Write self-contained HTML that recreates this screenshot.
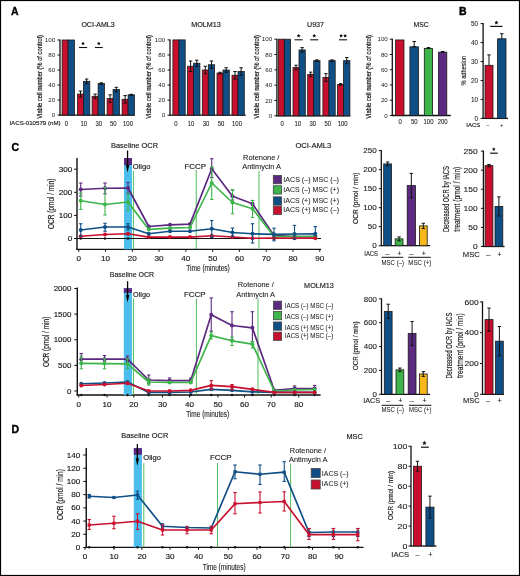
<!DOCTYPE html>
<html><head><meta charset="utf-8"><style>
html,body{margin:0;padding:0;background:#fff;}
svg{display:block;font-family:"Liberation Sans",sans-serif;transform:translateZ(0);will-change:transform;}
</style></head><body>
<svg width="520" height="576" viewBox="0 0 520 576">
<rect width="520" height="576" fill="#fff"/>
<rect x="0.5" y="0.5" width="519" height="575" fill="none" stroke="#000" stroke-width="1.2"/>
<text x="11.00" y="15.26" font-size="10.5" text-anchor="start" fill="#000" stroke="#000" stroke-width="0.3" font-weight="bold">A</text>
<text x="459.00" y="15.26" font-size="10.5" text-anchor="start" fill="#000" stroke="#000" stroke-width="0.4" font-weight="bold">B</text>
<text x="11.40" y="150.96" font-size="10.5" text-anchor="start" fill="#000" stroke="#000" stroke-width="0.4" font-weight="bold">C</text>
<text x="11.60" y="432.56" font-size="10.5" text-anchor="start" fill="#000" stroke="#000" stroke-width="0.4" font-weight="bold">D</text>
<line x1="60.00" y1="39.50" x2="60.00" y2="115.60" stroke="#111" stroke-width="1.3"/>
<line x1="59.50" y1="115.10" x2="134.50" y2="115.10" stroke="#111" stroke-width="1.3"/>
<line x1="57.50" y1="115.10" x2="60.00" y2="115.10" stroke="#111" stroke-width="1.0"/>
<text x="55.20" y="117.25" font-size="6.0" text-anchor="end" fill="#1a1a1a" stroke="#1a1a1a" stroke-width="0.0" textLength="3.45" lengthAdjust="spacingAndGlyphs">0</text>
<line x1="57.50" y1="100.08" x2="60.00" y2="100.08" stroke="#111" stroke-width="1.0"/>
<text x="55.20" y="102.23" font-size="6.0" text-anchor="end" fill="#1a1a1a" stroke="#1a1a1a" stroke-width="0.0" textLength="6.9" lengthAdjust="spacingAndGlyphs">20</text>
<line x1="57.50" y1="85.06" x2="60.00" y2="85.06" stroke="#111" stroke-width="1.0"/>
<text x="55.20" y="87.21" font-size="6.0" text-anchor="end" fill="#1a1a1a" stroke="#1a1a1a" stroke-width="0.0" textLength="6.9" lengthAdjust="spacingAndGlyphs">40</text>
<line x1="57.50" y1="70.04" x2="60.00" y2="70.04" stroke="#111" stroke-width="1.0"/>
<text x="55.20" y="72.19" font-size="6.0" text-anchor="end" fill="#1a1a1a" stroke="#1a1a1a" stroke-width="0.0" textLength="6.9" lengthAdjust="spacingAndGlyphs">60</text>
<line x1="57.50" y1="55.02" x2="60.00" y2="55.02" stroke="#111" stroke-width="1.0"/>
<text x="55.20" y="57.17" font-size="6.0" text-anchor="end" fill="#1a1a1a" stroke="#1a1a1a" stroke-width="0.0" textLength="6.9" lengthAdjust="spacingAndGlyphs">80</text>
<line x1="57.50" y1="40.00" x2="60.00" y2="40.00" stroke="#111" stroke-width="1.0"/>
<text x="55.20" y="42.15" font-size="6.0" text-anchor="end" fill="#1a1a1a" stroke="#1a1a1a" stroke-width="0.0" textLength="10.35" lengthAdjust="spacingAndGlyphs">100</text>
<rect x="62.10" y="40.00" width="6.00" height="75.10" fill="#c8102e" stroke="#1a1a1a" stroke-width="0.8"/>
<rect x="68.10" y="40.00" width="6.30" height="75.10" fill="#0f4f86" stroke="#1a1a1a" stroke-width="0.8"/>
<line x1="80.50" y1="91.07" x2="80.50" y2="97.08" stroke="#111" stroke-width="1.0"/>
<line x1="78.80" y1="91.07" x2="82.20" y2="91.07" stroke="#111" stroke-width="1.0"/>
<line x1="78.80" y1="97.08" x2="82.20" y2="97.08" stroke="#111" stroke-width="1.0"/>
<rect x="77.50" y="94.07" width="6.00" height="21.03" fill="#c8102e" stroke="#1a1a1a" stroke-width="0.8"/>
<line x1="80.50" y1="94.07" x2="80.50" y2="97.08" stroke="#111" stroke-width="1.0"/>
<line x1="78.80" y1="97.08" x2="82.20" y2="97.08" stroke="#111" stroke-width="1.0"/>
<line x1="86.65" y1="79.05" x2="86.65" y2="83.56" stroke="#111" stroke-width="1.0"/>
<line x1="84.95" y1="79.05" x2="88.35" y2="79.05" stroke="#111" stroke-width="1.0"/>
<line x1="84.95" y1="83.56" x2="88.35" y2="83.56" stroke="#111" stroke-width="1.0"/>
<rect x="83.50" y="81.31" width="6.30" height="33.79" fill="#0f4f86" stroke="#1a1a1a" stroke-width="0.8"/>
<line x1="86.65" y1="81.31" x2="86.65" y2="83.56" stroke="#111" stroke-width="1.0"/>
<line x1="84.95" y1="83.56" x2="88.35" y2="83.56" stroke="#111" stroke-width="1.0"/>
<line x1="95.10" y1="94.07" x2="95.10" y2="98.58" stroke="#111" stroke-width="1.0"/>
<line x1="93.40" y1="94.07" x2="96.80" y2="94.07" stroke="#111" stroke-width="1.0"/>
<line x1="93.40" y1="98.58" x2="96.80" y2="98.58" stroke="#111" stroke-width="1.0"/>
<rect x="92.10" y="96.32" width="6.00" height="18.78" fill="#c8102e" stroke="#1a1a1a" stroke-width="0.8"/>
<line x1="95.10" y1="96.32" x2="95.10" y2="98.58" stroke="#111" stroke-width="1.0"/>
<line x1="93.40" y1="98.58" x2="96.80" y2="98.58" stroke="#111" stroke-width="1.0"/>
<line x1="101.25" y1="82.81" x2="101.25" y2="84.31" stroke="#111" stroke-width="1.0"/>
<line x1="99.55" y1="82.81" x2="102.95" y2="82.81" stroke="#111" stroke-width="1.0"/>
<line x1="99.55" y1="84.31" x2="102.95" y2="84.31" stroke="#111" stroke-width="1.0"/>
<rect x="98.10" y="83.56" width="6.30" height="31.54" fill="#0f4f86" stroke="#1a1a1a" stroke-width="0.8"/>
<line x1="101.25" y1="83.56" x2="101.25" y2="84.31" stroke="#111" stroke-width="1.0"/>
<line x1="99.55" y1="84.31" x2="102.95" y2="84.31" stroke="#111" stroke-width="1.0"/>
<line x1="110.10" y1="94.82" x2="110.10" y2="102.33" stroke="#111" stroke-width="1.0"/>
<line x1="108.40" y1="94.82" x2="111.80" y2="94.82" stroke="#111" stroke-width="1.0"/>
<line x1="108.40" y1="102.33" x2="111.80" y2="102.33" stroke="#111" stroke-width="1.0"/>
<rect x="107.10" y="98.58" width="6.00" height="16.52" fill="#c8102e" stroke="#1a1a1a" stroke-width="0.8"/>
<line x1="110.10" y1="98.58" x2="110.10" y2="102.33" stroke="#111" stroke-width="1.0"/>
<line x1="108.40" y1="102.33" x2="111.80" y2="102.33" stroke="#111" stroke-width="1.0"/>
<line x1="116.25" y1="87.31" x2="116.25" y2="91.82" stroke="#111" stroke-width="1.0"/>
<line x1="114.55" y1="87.31" x2="117.95" y2="87.31" stroke="#111" stroke-width="1.0"/>
<line x1="114.55" y1="91.82" x2="117.95" y2="91.82" stroke="#111" stroke-width="1.0"/>
<rect x="113.10" y="89.57" width="6.30" height="25.53" fill="#0f4f86" stroke="#1a1a1a" stroke-width="0.8"/>
<line x1="116.25" y1="89.57" x2="116.25" y2="91.82" stroke="#111" stroke-width="1.0"/>
<line x1="114.55" y1="91.82" x2="117.95" y2="91.82" stroke="#111" stroke-width="1.0"/>
<line x1="125.10" y1="95.57" x2="125.10" y2="103.08" stroke="#111" stroke-width="1.0"/>
<line x1="123.40" y1="95.57" x2="126.80" y2="95.57" stroke="#111" stroke-width="1.0"/>
<line x1="123.40" y1="103.08" x2="126.80" y2="103.08" stroke="#111" stroke-width="1.0"/>
<rect x="122.10" y="99.33" width="6.00" height="15.77" fill="#c8102e" stroke="#1a1a1a" stroke-width="0.8"/>
<line x1="125.10" y1="99.33" x2="125.10" y2="103.08" stroke="#111" stroke-width="1.0"/>
<line x1="123.40" y1="103.08" x2="126.80" y2="103.08" stroke="#111" stroke-width="1.0"/>
<line x1="131.25" y1="94.30" x2="131.25" y2="95.35" stroke="#111" stroke-width="1.0"/>
<line x1="129.55" y1="94.30" x2="132.95" y2="94.30" stroke="#111" stroke-width="1.0"/>
<line x1="129.55" y1="95.35" x2="132.95" y2="95.35" stroke="#111" stroke-width="1.0"/>
<rect x="128.10" y="94.82" width="6.30" height="20.28" fill="#0f4f86" stroke="#1a1a1a" stroke-width="0.8"/>
<line x1="131.25" y1="94.82" x2="131.25" y2="95.35" stroke="#111" stroke-width="1.0"/>
<line x1="129.55" y1="95.35" x2="132.95" y2="95.35" stroke="#111" stroke-width="1.0"/>
<text x="81.40" y="27.41" font-size="7.3" text-anchor="start" fill="#1a1a1a" stroke="#1a1a1a" stroke-width="0.15" textLength="33.2" lengthAdjust="spacingAndGlyphs">OCI-AML3</text>
<text x="39.50" y="79.69" font-size="7.8" text-anchor="middle" fill="#1a1a1a" stroke="#1a1a1a" stroke-width="0.22" textLength="83.5" lengthAdjust="spacingAndGlyphs" transform="rotate(-90 39.50 76.90)">Viable cell number (% of control)</text>
<line x1="170.00" y1="39.40" x2="170.00" y2="115.70" stroke="#111" stroke-width="1.3"/>
<line x1="169.50" y1="115.20" x2="245.70" y2="115.20" stroke="#111" stroke-width="1.3"/>
<line x1="167.50" y1="115.20" x2="170.00" y2="115.20" stroke="#111" stroke-width="1.0"/>
<text x="165.20" y="117.35" font-size="6.0" text-anchor="end" fill="#1a1a1a" stroke="#1a1a1a" stroke-width="0.0" textLength="3.45" lengthAdjust="spacingAndGlyphs">0</text>
<line x1="167.50" y1="100.14" x2="170.00" y2="100.14" stroke="#111" stroke-width="1.0"/>
<text x="165.20" y="102.29" font-size="6.0" text-anchor="end" fill="#1a1a1a" stroke="#1a1a1a" stroke-width="0.0" textLength="6.9" lengthAdjust="spacingAndGlyphs">20</text>
<line x1="167.50" y1="85.08" x2="170.00" y2="85.08" stroke="#111" stroke-width="1.0"/>
<text x="165.20" y="87.23" font-size="6.0" text-anchor="end" fill="#1a1a1a" stroke="#1a1a1a" stroke-width="0.0" textLength="6.9" lengthAdjust="spacingAndGlyphs">40</text>
<line x1="167.50" y1="70.02" x2="170.00" y2="70.02" stroke="#111" stroke-width="1.0"/>
<text x="165.20" y="72.17" font-size="6.0" text-anchor="end" fill="#1a1a1a" stroke="#1a1a1a" stroke-width="0.0" textLength="6.9" lengthAdjust="spacingAndGlyphs">60</text>
<line x1="167.50" y1="54.96" x2="170.00" y2="54.96" stroke="#111" stroke-width="1.0"/>
<text x="165.20" y="57.11" font-size="6.0" text-anchor="end" fill="#1a1a1a" stroke="#1a1a1a" stroke-width="0.0" textLength="6.9" lengthAdjust="spacingAndGlyphs">80</text>
<line x1="167.50" y1="39.90" x2="170.00" y2="39.90" stroke="#111" stroke-width="1.0"/>
<text x="165.20" y="42.05" font-size="6.0" text-anchor="end" fill="#1a1a1a" stroke="#1a1a1a" stroke-width="0.0" textLength="10.35" lengthAdjust="spacingAndGlyphs">100</text>
<rect x="172.90" y="39.90" width="6.00" height="75.30" fill="#c8102e" stroke="#1a1a1a" stroke-width="0.8"/>
<rect x="178.90" y="39.90" width="6.30" height="75.30" fill="#0f4f86" stroke="#1a1a1a" stroke-width="0.8"/>
<line x1="190.60" y1="60.98" x2="190.60" y2="71.53" stroke="#111" stroke-width="1.0"/>
<line x1="188.90" y1="60.98" x2="192.30" y2="60.98" stroke="#111" stroke-width="1.0"/>
<line x1="188.90" y1="71.53" x2="192.30" y2="71.53" stroke="#111" stroke-width="1.0"/>
<rect x="187.60" y="66.25" width="6.00" height="48.95" fill="#c8102e" stroke="#1a1a1a" stroke-width="0.8"/>
<line x1="190.60" y1="66.25" x2="190.60" y2="71.53" stroke="#111" stroke-width="1.0"/>
<line x1="188.90" y1="71.53" x2="192.30" y2="71.53" stroke="#111" stroke-width="1.0"/>
<line x1="196.75" y1="60.23" x2="196.75" y2="66.25" stroke="#111" stroke-width="1.0"/>
<line x1="195.05" y1="60.23" x2="198.45" y2="60.23" stroke="#111" stroke-width="1.0"/>
<line x1="195.05" y1="66.25" x2="198.45" y2="66.25" stroke="#111" stroke-width="1.0"/>
<rect x="193.60" y="63.24" width="6.30" height="51.96" fill="#0f4f86" stroke="#1a1a1a" stroke-width="0.8"/>
<line x1="196.75" y1="63.24" x2="196.75" y2="66.25" stroke="#111" stroke-width="1.0"/>
<line x1="195.05" y1="66.25" x2="198.45" y2="66.25" stroke="#111" stroke-width="1.0"/>
<line x1="205.30" y1="66.25" x2="205.30" y2="73.78" stroke="#111" stroke-width="1.0"/>
<line x1="203.60" y1="66.25" x2="207.00" y2="66.25" stroke="#111" stroke-width="1.0"/>
<line x1="203.60" y1="73.78" x2="207.00" y2="73.78" stroke="#111" stroke-width="1.0"/>
<rect x="202.30" y="70.02" width="6.00" height="45.18" fill="#c8102e" stroke="#1a1a1a" stroke-width="0.8"/>
<line x1="205.30" y1="70.02" x2="205.30" y2="73.78" stroke="#111" stroke-width="1.0"/>
<line x1="203.60" y1="73.78" x2="207.00" y2="73.78" stroke="#111" stroke-width="1.0"/>
<line x1="211.45" y1="60.98" x2="211.45" y2="68.51" stroke="#111" stroke-width="1.0"/>
<line x1="209.75" y1="60.98" x2="213.15" y2="60.98" stroke="#111" stroke-width="1.0"/>
<line x1="209.75" y1="68.51" x2="213.15" y2="68.51" stroke="#111" stroke-width="1.0"/>
<rect x="208.30" y="64.75" width="6.30" height="50.45" fill="#0f4f86" stroke="#1a1a1a" stroke-width="0.8"/>
<line x1="211.45" y1="64.75" x2="211.45" y2="68.51" stroke="#111" stroke-width="1.0"/>
<line x1="209.75" y1="68.51" x2="213.15" y2="68.51" stroke="#111" stroke-width="1.0"/>
<line x1="220.00" y1="72.28" x2="220.00" y2="73.78" stroke="#111" stroke-width="1.0"/>
<line x1="218.30" y1="72.28" x2="221.70" y2="72.28" stroke="#111" stroke-width="1.0"/>
<line x1="218.30" y1="73.78" x2="221.70" y2="73.78" stroke="#111" stroke-width="1.0"/>
<rect x="217.00" y="73.03" width="6.00" height="42.17" fill="#c8102e" stroke="#1a1a1a" stroke-width="0.8"/>
<line x1="220.00" y1="73.03" x2="220.00" y2="73.78" stroke="#111" stroke-width="1.0"/>
<line x1="218.30" y1="73.78" x2="221.70" y2="73.78" stroke="#111" stroke-width="1.0"/>
<line x1="226.15" y1="67.76" x2="226.15" y2="72.28" stroke="#111" stroke-width="1.0"/>
<line x1="224.45" y1="67.76" x2="227.85" y2="67.76" stroke="#111" stroke-width="1.0"/>
<line x1="224.45" y1="72.28" x2="227.85" y2="72.28" stroke="#111" stroke-width="1.0"/>
<rect x="223.00" y="70.02" width="6.30" height="45.18" fill="#0f4f86" stroke="#1a1a1a" stroke-width="0.8"/>
<line x1="226.15" y1="70.02" x2="226.15" y2="72.28" stroke="#111" stroke-width="1.0"/>
<line x1="224.45" y1="72.28" x2="227.85" y2="72.28" stroke="#111" stroke-width="1.0"/>
<line x1="235.00" y1="71.53" x2="235.00" y2="79.06" stroke="#111" stroke-width="1.0"/>
<line x1="233.30" y1="71.53" x2="236.70" y2="71.53" stroke="#111" stroke-width="1.0"/>
<line x1="233.30" y1="79.06" x2="236.70" y2="79.06" stroke="#111" stroke-width="1.0"/>
<rect x="232.00" y="75.29" width="6.00" height="39.91" fill="#c8102e" stroke="#1a1a1a" stroke-width="0.8"/>
<line x1="235.00" y1="75.29" x2="235.00" y2="79.06" stroke="#111" stroke-width="1.0"/>
<line x1="233.30" y1="79.06" x2="236.70" y2="79.06" stroke="#111" stroke-width="1.0"/>
<line x1="241.15" y1="67.76" x2="241.15" y2="75.29" stroke="#111" stroke-width="1.0"/>
<line x1="239.45" y1="67.76" x2="242.85" y2="67.76" stroke="#111" stroke-width="1.0"/>
<line x1="239.45" y1="75.29" x2="242.85" y2="75.29" stroke="#111" stroke-width="1.0"/>
<rect x="238.00" y="71.53" width="6.30" height="43.67" fill="#0f4f86" stroke="#1a1a1a" stroke-width="0.8"/>
<line x1="241.15" y1="71.53" x2="241.15" y2="75.29" stroke="#111" stroke-width="1.0"/>
<line x1="239.45" y1="75.29" x2="242.85" y2="75.29" stroke="#111" stroke-width="1.0"/>
<text x="191.20" y="27.41" font-size="7.3" text-anchor="start" fill="#1a1a1a" stroke="#1a1a1a" stroke-width="0.15" textLength="29.6" lengthAdjust="spacingAndGlyphs">MOLM13</text>
<text x="148.40" y="79.69" font-size="7.8" text-anchor="middle" fill="#1a1a1a" stroke="#1a1a1a" stroke-width="0.22" textLength="83.5" lengthAdjust="spacingAndGlyphs" transform="rotate(-90 148.40 76.90)">Viable cell number (% of control)</text>
<line x1="276.90" y1="38.70" x2="276.90" y2="116.30" stroke="#111" stroke-width="1.3"/>
<line x1="276.40" y1="115.80" x2="350.30" y2="115.80" stroke="#111" stroke-width="1.3"/>
<line x1="274.40" y1="115.80" x2="276.90" y2="115.80" stroke="#111" stroke-width="1.0"/>
<text x="272.10" y="117.95" font-size="6.0" text-anchor="end" fill="#1a1a1a" stroke="#1a1a1a" stroke-width="0.0" textLength="3.45" lengthAdjust="spacingAndGlyphs">0</text>
<line x1="274.40" y1="100.48" x2="276.90" y2="100.48" stroke="#111" stroke-width="1.0"/>
<text x="272.10" y="102.63" font-size="6.0" text-anchor="end" fill="#1a1a1a" stroke="#1a1a1a" stroke-width="0.0" textLength="6.9" lengthAdjust="spacingAndGlyphs">20</text>
<line x1="274.40" y1="85.16" x2="276.90" y2="85.16" stroke="#111" stroke-width="1.0"/>
<text x="272.10" y="87.31" font-size="6.0" text-anchor="end" fill="#1a1a1a" stroke="#1a1a1a" stroke-width="0.0" textLength="6.9" lengthAdjust="spacingAndGlyphs">40</text>
<line x1="274.40" y1="69.84" x2="276.90" y2="69.84" stroke="#111" stroke-width="1.0"/>
<text x="272.10" y="71.99" font-size="6.0" text-anchor="end" fill="#1a1a1a" stroke="#1a1a1a" stroke-width="0.0" textLength="6.9" lengthAdjust="spacingAndGlyphs">60</text>
<line x1="274.40" y1="54.52" x2="276.90" y2="54.52" stroke="#111" stroke-width="1.0"/>
<text x="272.10" y="56.67" font-size="6.0" text-anchor="end" fill="#1a1a1a" stroke="#1a1a1a" stroke-width="0.0" textLength="6.9" lengthAdjust="spacingAndGlyphs">80</text>
<line x1="274.40" y1="39.20" x2="276.90" y2="39.20" stroke="#111" stroke-width="1.0"/>
<text x="272.10" y="41.35" font-size="6.0" text-anchor="end" fill="#1a1a1a" stroke="#1a1a1a" stroke-width="0.0" textLength="10.35" lengthAdjust="spacingAndGlyphs">100</text>
<rect x="278.30" y="39.20" width="6.00" height="76.60" fill="#c8102e" stroke="#1a1a1a" stroke-width="0.8"/>
<rect x="284.30" y="39.20" width="6.30" height="76.60" fill="#0f4f86" stroke="#1a1a1a" stroke-width="0.8"/>
<line x1="296.00" y1="65.24" x2="296.00" y2="69.84" stroke="#111" stroke-width="1.0"/>
<line x1="294.30" y1="65.24" x2="297.70" y2="65.24" stroke="#111" stroke-width="1.0"/>
<line x1="294.30" y1="69.84" x2="297.70" y2="69.84" stroke="#111" stroke-width="1.0"/>
<rect x="293.00" y="67.54" width="6.00" height="48.26" fill="#c8102e" stroke="#1a1a1a" stroke-width="0.8"/>
<line x1="296.00" y1="67.54" x2="296.00" y2="69.84" stroke="#111" stroke-width="1.0"/>
<line x1="294.30" y1="69.84" x2="297.70" y2="69.84" stroke="#111" stroke-width="1.0"/>
<line x1="302.15" y1="47.63" x2="302.15" y2="52.22" stroke="#111" stroke-width="1.0"/>
<line x1="300.45" y1="47.63" x2="303.85" y2="47.63" stroke="#111" stroke-width="1.0"/>
<line x1="300.45" y1="52.22" x2="303.85" y2="52.22" stroke="#111" stroke-width="1.0"/>
<rect x="299.00" y="49.92" width="6.30" height="65.88" fill="#0f4f86" stroke="#1a1a1a" stroke-width="0.8"/>
<line x1="302.15" y1="49.92" x2="302.15" y2="52.22" stroke="#111" stroke-width="1.0"/>
<line x1="300.45" y1="52.22" x2="303.85" y2="52.22" stroke="#111" stroke-width="1.0"/>
<line x1="310.70" y1="72.14" x2="310.70" y2="76.73" stroke="#111" stroke-width="1.0"/>
<line x1="309.00" y1="72.14" x2="312.40" y2="72.14" stroke="#111" stroke-width="1.0"/>
<line x1="309.00" y1="76.73" x2="312.40" y2="76.73" stroke="#111" stroke-width="1.0"/>
<rect x="307.70" y="74.44" width="6.00" height="41.36" fill="#c8102e" stroke="#1a1a1a" stroke-width="0.8"/>
<line x1="310.70" y1="74.44" x2="310.70" y2="76.73" stroke="#111" stroke-width="1.0"/>
<line x1="309.00" y1="76.73" x2="312.40" y2="76.73" stroke="#111" stroke-width="1.0"/>
<line x1="316.85" y1="59.88" x2="316.85" y2="61.41" stroke="#111" stroke-width="1.0"/>
<line x1="315.15" y1="59.88" x2="318.55" y2="59.88" stroke="#111" stroke-width="1.0"/>
<line x1="315.15" y1="61.41" x2="318.55" y2="61.41" stroke="#111" stroke-width="1.0"/>
<rect x="313.70" y="60.65" width="6.30" height="55.15" fill="#0f4f86" stroke="#1a1a1a" stroke-width="0.8"/>
<line x1="316.85" y1="60.65" x2="316.85" y2="61.41" stroke="#111" stroke-width="1.0"/>
<line x1="315.15" y1="61.41" x2="318.55" y2="61.41" stroke="#111" stroke-width="1.0"/>
<line x1="325.90" y1="73.67" x2="325.90" y2="81.33" stroke="#111" stroke-width="1.0"/>
<line x1="324.20" y1="73.67" x2="327.60" y2="73.67" stroke="#111" stroke-width="1.0"/>
<line x1="324.20" y1="81.33" x2="327.60" y2="81.33" stroke="#111" stroke-width="1.0"/>
<rect x="322.90" y="77.50" width="6.00" height="38.30" fill="#c8102e" stroke="#1a1a1a" stroke-width="0.8"/>
<line x1="325.90" y1="77.50" x2="325.90" y2="81.33" stroke="#111" stroke-width="1.0"/>
<line x1="324.20" y1="81.33" x2="327.60" y2="81.33" stroke="#111" stroke-width="1.0"/>
<line x1="332.05" y1="59.88" x2="332.05" y2="61.41" stroke="#111" stroke-width="1.0"/>
<line x1="330.35" y1="59.88" x2="333.75" y2="59.88" stroke="#111" stroke-width="1.0"/>
<line x1="330.35" y1="61.41" x2="333.75" y2="61.41" stroke="#111" stroke-width="1.0"/>
<rect x="328.90" y="60.65" width="6.30" height="55.15" fill="#0f4f86" stroke="#1a1a1a" stroke-width="0.8"/>
<line x1="332.05" y1="60.65" x2="332.05" y2="61.41" stroke="#111" stroke-width="1.0"/>
<line x1="330.35" y1="61.41" x2="333.75" y2="61.41" stroke="#111" stroke-width="1.0"/>
<line x1="340.60" y1="83.63" x2="340.60" y2="85.16" stroke="#111" stroke-width="1.0"/>
<line x1="338.90" y1="83.63" x2="342.30" y2="83.63" stroke="#111" stroke-width="1.0"/>
<line x1="338.90" y1="85.16" x2="342.30" y2="85.16" stroke="#111" stroke-width="1.0"/>
<rect x="337.60" y="84.39" width="6.00" height="31.41" fill="#c8102e" stroke="#1a1a1a" stroke-width="0.8"/>
<line x1="340.60" y1="84.39" x2="340.60" y2="85.16" stroke="#111" stroke-width="1.0"/>
<line x1="338.90" y1="85.16" x2="342.30" y2="85.16" stroke="#111" stroke-width="1.0"/>
<line x1="346.75" y1="57.58" x2="346.75" y2="63.71" stroke="#111" stroke-width="1.0"/>
<line x1="345.05" y1="57.58" x2="348.45" y2="57.58" stroke="#111" stroke-width="1.0"/>
<line x1="345.05" y1="63.71" x2="348.45" y2="63.71" stroke="#111" stroke-width="1.0"/>
<rect x="343.60" y="60.65" width="6.30" height="55.15" fill="#0f4f86" stroke="#1a1a1a" stroke-width="0.8"/>
<line x1="346.75" y1="60.65" x2="346.75" y2="63.71" stroke="#111" stroke-width="1.0"/>
<line x1="345.05" y1="63.71" x2="348.45" y2="63.71" stroke="#111" stroke-width="1.0"/>
<text x="307.00" y="27.41" font-size="7.3" text-anchor="start" fill="#1a1a1a" stroke="#1a1a1a" stroke-width="0.15" textLength="17" lengthAdjust="spacingAndGlyphs">U937</text>
<text x="255.80" y="79.69" font-size="7.8" text-anchor="middle" fill="#1a1a1a" stroke="#1a1a1a" stroke-width="0.22" textLength="83.5" lengthAdjust="spacingAndGlyphs" transform="rotate(-90 255.80 76.90)">Viable cell number (% of control)</text>
<text x="9.40" y="125.45" font-size="6" text-anchor="start" fill="#1a1a1a" stroke="#1a1a1a" stroke-width="0.15" textLength="51.2" lengthAdjust="spacingAndGlyphs">IACS-010579 (nM)</text>
<text x="66.50" y="125.79" font-size="6.4" text-anchor="middle" fill="#1a1a1a" stroke="#1a1a1a" stroke-width="0.08" textLength="3.3" lengthAdjust="spacingAndGlyphs">0</text>
<text x="83.80" y="125.79" font-size="6.4" text-anchor="middle" fill="#1a1a1a" stroke="#1a1a1a" stroke-width="0.08" textLength="6.6" lengthAdjust="spacingAndGlyphs">10</text>
<text x="98.70" y="125.79" font-size="6.4" text-anchor="middle" fill="#1a1a1a" stroke="#1a1a1a" stroke-width="0.08" textLength="6.6" lengthAdjust="spacingAndGlyphs">30</text>
<text x="113.30" y="125.79" font-size="6.4" text-anchor="middle" fill="#1a1a1a" stroke="#1a1a1a" stroke-width="0.08" textLength="6.6" lengthAdjust="spacingAndGlyphs">50</text>
<text x="128.00" y="125.79" font-size="6.4" text-anchor="middle" fill="#1a1a1a" stroke="#1a1a1a" stroke-width="0.08" textLength="9.9" lengthAdjust="spacingAndGlyphs">100</text>
<text x="175.80" y="125.79" font-size="6.4" text-anchor="middle" fill="#1a1a1a" stroke="#1a1a1a" stroke-width="0.08" textLength="3.3" lengthAdjust="spacingAndGlyphs">0</text>
<text x="191.00" y="125.79" font-size="6.4" text-anchor="middle" fill="#1a1a1a" stroke="#1a1a1a" stroke-width="0.08" textLength="6.6" lengthAdjust="spacingAndGlyphs">10</text>
<text x="206.00" y="125.79" font-size="6.4" text-anchor="middle" fill="#1a1a1a" stroke="#1a1a1a" stroke-width="0.08" textLength="6.6" lengthAdjust="spacingAndGlyphs">30</text>
<text x="221.00" y="125.79" font-size="6.4" text-anchor="middle" fill="#1a1a1a" stroke="#1a1a1a" stroke-width="0.08" textLength="6.6" lengthAdjust="spacingAndGlyphs">50</text>
<text x="237.00" y="125.79" font-size="6.4" text-anchor="middle" fill="#1a1a1a" stroke="#1a1a1a" stroke-width="0.08" textLength="9.9" lengthAdjust="spacingAndGlyphs">100</text>
<text x="282.20" y="125.79" font-size="6.4" text-anchor="middle" fill="#1a1a1a" stroke="#1a1a1a" stroke-width="0.08" textLength="3.3" lengthAdjust="spacingAndGlyphs">0</text>
<text x="297.70" y="125.79" font-size="6.4" text-anchor="middle" fill="#1a1a1a" stroke="#1a1a1a" stroke-width="0.08" textLength="6.6" lengthAdjust="spacingAndGlyphs">10</text>
<text x="312.70" y="125.79" font-size="6.4" text-anchor="middle" fill="#1a1a1a" stroke="#1a1a1a" stroke-width="0.08" textLength="6.6" lengthAdjust="spacingAndGlyphs">30</text>
<text x="327.70" y="125.79" font-size="6.4" text-anchor="middle" fill="#1a1a1a" stroke="#1a1a1a" stroke-width="0.08" textLength="6.6" lengthAdjust="spacingAndGlyphs">50</text>
<text x="342.70" y="125.79" font-size="6.4" text-anchor="middle" fill="#1a1a1a" stroke="#1a1a1a" stroke-width="0.08" textLength="9.9" lengthAdjust="spacingAndGlyphs">100</text>
<line x1="79.00" y1="47.50" x2="87.10" y2="47.50" stroke="#111" stroke-width="1.1"/>
<polygon points="83.05,41.50 83.64,42.69 84.95,42.88 84.00,43.81 84.23,45.12 83.05,44.50 81.87,45.12 82.10,43.81 81.15,42.88 82.46,42.69" fill="#111"/>
<line x1="94.90" y1="47.50" x2="102.70" y2="47.50" stroke="#111" stroke-width="1.1"/>
<polygon points="98.80,41.50 99.39,42.69 100.70,42.88 99.75,43.81 99.98,45.12 98.80,44.50 97.62,45.12 97.85,43.81 96.90,42.88 98.21,42.69" fill="#111"/>
<line x1="294.60" y1="39.80" x2="302.70" y2="39.80" stroke="#111" stroke-width="1.1"/>
<polygon points="298.65,33.70 299.27,34.95 300.65,35.15 299.65,36.12 299.88,37.50 298.65,36.85 297.42,37.50 297.65,36.12 296.65,35.15 298.03,34.95" fill="#111"/>
<line x1="310.20" y1="39.80" x2="318.30" y2="39.80" stroke="#111" stroke-width="1.1"/>
<polygon points="314.25,33.70 314.87,34.95 316.25,35.15 315.25,36.12 315.48,37.50 314.25,36.85 313.02,37.50 313.25,36.12 312.25,35.15 313.63,34.95" fill="#111"/>
<line x1="339.00" y1="39.80" x2="347.10" y2="39.80" stroke="#111" stroke-width="1.1"/>
<polygon points="341.10,33.80 341.69,34.99 343.00,35.18 342.05,36.11 342.28,37.42 341.10,36.80 339.92,37.42 340.15,36.11 339.20,35.18 340.51,34.99" fill="#111"/>
<polygon points="345.10,33.80 345.69,34.99 347.00,35.18 346.05,36.11 346.28,37.42 345.10,36.80 343.92,37.42 344.15,36.11 343.20,35.18 344.51,34.99" fill="#111"/>
<line x1="392.30" y1="38.70" x2="392.30" y2="116.00" stroke="#111" stroke-width="1.3"/>
<line x1="391.80" y1="115.50" x2="450.80" y2="115.50" stroke="#111" stroke-width="1.3"/>
<line x1="389.80" y1="115.50" x2="392.30" y2="115.50" stroke="#111" stroke-width="1.0"/>
<text x="387.80" y="117.65" font-size="6.0" text-anchor="end" fill="#1a1a1a" stroke="#1a1a1a" stroke-width="0.0" textLength="3.45" lengthAdjust="spacingAndGlyphs">0</text>
<line x1="389.80" y1="100.24" x2="392.30" y2="100.24" stroke="#111" stroke-width="1.0"/>
<text x="387.80" y="102.39" font-size="6.0" text-anchor="end" fill="#1a1a1a" stroke="#1a1a1a" stroke-width="0.0" textLength="6.9" lengthAdjust="spacingAndGlyphs">20</text>
<line x1="389.80" y1="84.98" x2="392.30" y2="84.98" stroke="#111" stroke-width="1.0"/>
<text x="387.80" y="87.13" font-size="6.0" text-anchor="end" fill="#1a1a1a" stroke="#1a1a1a" stroke-width="0.0" textLength="6.9" lengthAdjust="spacingAndGlyphs">40</text>
<line x1="389.80" y1="69.72" x2="392.30" y2="69.72" stroke="#111" stroke-width="1.0"/>
<text x="387.80" y="71.87" font-size="6.0" text-anchor="end" fill="#1a1a1a" stroke="#1a1a1a" stroke-width="0.0" textLength="6.9" lengthAdjust="spacingAndGlyphs">60</text>
<line x1="389.80" y1="54.46" x2="392.30" y2="54.46" stroke="#111" stroke-width="1.0"/>
<text x="387.80" y="56.61" font-size="6.0" text-anchor="end" fill="#1a1a1a" stroke="#1a1a1a" stroke-width="0.0" textLength="6.9" lengthAdjust="spacingAndGlyphs">80</text>
<line x1="389.80" y1="39.20" x2="392.30" y2="39.20" stroke="#111" stroke-width="1.0"/>
<text x="387.80" y="41.35" font-size="6.0" text-anchor="end" fill="#1a1a1a" stroke="#1a1a1a" stroke-width="0.0" textLength="10.35" lengthAdjust="spacingAndGlyphs">100</text>
<rect x="395.60" y="39.96" width="8.40" height="75.54" fill="#c8102e" stroke="#1a1a1a" stroke-width="0.8"/>
<line x1="414.20" y1="41.49" x2="414.20" y2="46.83" stroke="#111" stroke-width="1.0"/>
<line x1="412.50" y1="41.49" x2="415.90" y2="41.49" stroke="#111" stroke-width="1.0"/>
<line x1="412.50" y1="46.83" x2="415.90" y2="46.83" stroke="#111" stroke-width="1.0"/>
<rect x="409.90" y="46.83" width="8.60" height="68.67" fill="#0f4f86" stroke="#1a1a1a" stroke-width="0.8"/>
<line x1="414.20" y1="46.83" x2="414.20" y2="46.83" stroke="#111" stroke-width="1.0"/>
<line x1="412.50" y1="46.83" x2="415.90" y2="46.83" stroke="#111" stroke-width="1.0"/>
<line x1="428.45" y1="47.59" x2="428.45" y2="48.36" stroke="#111" stroke-width="1.0"/>
<line x1="426.75" y1="47.59" x2="430.15" y2="47.59" stroke="#111" stroke-width="1.0"/>
<line x1="426.75" y1="48.36" x2="430.15" y2="48.36" stroke="#111" stroke-width="1.0"/>
<rect x="424.30" y="48.36" width="8.30" height="67.14" fill="#3db54a" stroke="#1a1a1a" stroke-width="0.8"/>
<line x1="428.45" y1="48.36" x2="428.45" y2="48.36" stroke="#111" stroke-width="1.0"/>
<line x1="426.75" y1="48.36" x2="430.15" y2="48.36" stroke="#111" stroke-width="1.0"/>
<line x1="442.65" y1="51.41" x2="442.65" y2="52.17" stroke="#111" stroke-width="1.0"/>
<line x1="440.95" y1="51.41" x2="444.35" y2="51.41" stroke="#111" stroke-width="1.0"/>
<line x1="440.95" y1="52.17" x2="444.35" y2="52.17" stroke="#111" stroke-width="1.0"/>
<rect x="438.50" y="52.17" width="8.30" height="63.33" fill="#5b2a80" stroke="#1a1a1a" stroke-width="0.8"/>
<line x1="442.65" y1="52.17" x2="442.65" y2="52.17" stroke="#111" stroke-width="1.0"/>
<line x1="440.95" y1="52.17" x2="444.35" y2="52.17" stroke="#111" stroke-width="1.0"/>
<text x="413.50" y="27.41" font-size="7.3" text-anchor="start" fill="#1a1a1a" stroke="#1a1a1a" stroke-width="0.15" textLength="15.3" lengthAdjust="spacingAndGlyphs">MSC</text>
<text x="368.40" y="79.69" font-size="7.8" text-anchor="middle" fill="#1a1a1a" stroke="#1a1a1a" stroke-width="0.22" textLength="83.5" lengthAdjust="spacingAndGlyphs" transform="rotate(-90 368.40 76.90)">Viable cell number (% of control)</text>
<text x="400.10" y="124.39" font-size="6.4" text-anchor="middle" fill="#1a1a1a" stroke="#1a1a1a" stroke-width="0.08" textLength="3.3" lengthAdjust="spacingAndGlyphs">0</text>
<text x="414.20" y="124.39" font-size="6.4" text-anchor="middle" fill="#1a1a1a" stroke="#1a1a1a" stroke-width="0.08" textLength="6.6" lengthAdjust="spacingAndGlyphs">50</text>
<text x="428.50" y="124.39" font-size="6.4" text-anchor="middle" fill="#1a1a1a" stroke="#1a1a1a" stroke-width="0.08" textLength="9.9" lengthAdjust="spacingAndGlyphs">100</text>
<text x="442.70" y="124.39" font-size="6.4" text-anchor="middle" fill="#1a1a1a" stroke="#1a1a1a" stroke-width="0.08" textLength="9.9" lengthAdjust="spacingAndGlyphs">200</text>
<line x1="483.10" y1="23.00" x2="483.10" y2="118.90" stroke="#111" stroke-width="1.3"/>
<line x1="482.60" y1="118.40" x2="508.00" y2="118.40" stroke="#111" stroke-width="1.3"/>
<line x1="480.60" y1="118.40" x2="483.10" y2="118.40" stroke="#111" stroke-width="1.0"/>
<text x="478.20" y="120.76" font-size="6.6" text-anchor="end" fill="#1a1a1a" stroke="#1a1a1a" stroke-width="0.05" textLength="3.6" lengthAdjust="spacingAndGlyphs">0</text>
<line x1="480.60" y1="99.44" x2="483.10" y2="99.44" stroke="#111" stroke-width="1.0"/>
<text x="478.20" y="101.80" font-size="6.6" text-anchor="end" fill="#1a1a1a" stroke="#1a1a1a" stroke-width="0.05" textLength="7.2" lengthAdjust="spacingAndGlyphs">10</text>
<line x1="480.60" y1="80.48" x2="483.10" y2="80.48" stroke="#111" stroke-width="1.0"/>
<text x="478.20" y="82.84" font-size="6.6" text-anchor="end" fill="#1a1a1a" stroke="#1a1a1a" stroke-width="0.05" textLength="7.2" lengthAdjust="spacingAndGlyphs">20</text>
<line x1="480.60" y1="61.52" x2="483.10" y2="61.52" stroke="#111" stroke-width="1.0"/>
<text x="478.20" y="63.88" font-size="6.6" text-anchor="end" fill="#1a1a1a" stroke="#1a1a1a" stroke-width="0.05" textLength="7.2" lengthAdjust="spacingAndGlyphs">30</text>
<line x1="480.60" y1="42.56" x2="483.10" y2="42.56" stroke="#111" stroke-width="1.0"/>
<text x="478.20" y="44.92" font-size="6.6" text-anchor="end" fill="#1a1a1a" stroke="#1a1a1a" stroke-width="0.05" textLength="7.2" lengthAdjust="spacingAndGlyphs">40</text>
<line x1="480.60" y1="23.60" x2="483.10" y2="23.60" stroke="#111" stroke-width="1.0"/>
<text x="478.20" y="25.96" font-size="6.6" text-anchor="end" fill="#1a1a1a" stroke="#1a1a1a" stroke-width="0.05" textLength="7.2" lengthAdjust="spacingAndGlyphs">50</text>
<line x1="489.00" y1="54.88" x2="489.00" y2="75.74" stroke="#111" stroke-width="1.0"/>
<line x1="487.30" y1="54.88" x2="490.70" y2="54.88" stroke="#111" stroke-width="1.0"/>
<line x1="487.30" y1="75.74" x2="490.70" y2="75.74" stroke="#111" stroke-width="1.0"/>
<rect x="485.00" y="65.31" width="8.00" height="53.09" fill="#c8102e" stroke="#1a1a1a" stroke-width="0.8"/>
<line x1="501.80" y1="33.65" x2="501.80" y2="43.89" stroke="#111" stroke-width="1.0"/>
<line x1="500.10" y1="33.65" x2="503.50" y2="33.65" stroke="#111" stroke-width="1.0"/>
<line x1="500.10" y1="43.89" x2="503.50" y2="43.89" stroke="#111" stroke-width="1.0"/>
<rect x="497.60" y="38.77" width="8.40" height="79.63" fill="#0f4f86" stroke="#1a1a1a" stroke-width="0.8"/>
<line x1="490.20" y1="26.40" x2="502.50" y2="26.40" stroke="#111" stroke-width="1.2"/>
<polygon points="496.40,20.60 497.02,21.85 498.40,22.05 497.40,23.02 497.63,24.40 496.40,23.75 495.17,24.40 495.40,23.02 494.40,22.05 495.78,21.85" fill="#111"/>
<text x="466.25" y="126.60" font-size="5.6" text-anchor="start" fill="#1a1a1a" stroke="#1a1a1a" stroke-width="0.15" textLength="14" lengthAdjust="spacingAndGlyphs">IACS</text>
<text x="487.85" y="126.60" font-size="5.6" text-anchor="middle" fill="#1a1a1a" stroke="#1a1a1a" stroke-width="0.05" textLength="3" lengthAdjust="spacingAndGlyphs">–</text>
<text x="501.60" y="126.68" font-size="5.8" text-anchor="middle" fill="#1a1a1a" stroke="#1a1a1a" stroke-width="0.05">+</text>
<text x="463.30" y="73.30" font-size="7.4" text-anchor="middle" fill="#1a1a1a" stroke="#1a1a1a" stroke-width="0.15" textLength="29.5" lengthAdjust="spacingAndGlyphs" transform="rotate(-90 463.30 70.65)">% adhesion</text>
<line x1="77.00" y1="158.00" x2="77.00" y2="249.80" stroke="#111" stroke-width="1.4"/>
<line x1="76.30" y1="249.30" x2="321.00" y2="249.30" stroke="#111" stroke-width="1.3"/>
<line x1="74.00" y1="238.50" x2="77.00" y2="238.50" stroke="#111" stroke-width="1.0"/>
<text x="72.30" y="241.04" font-size="7.1" text-anchor="end" fill="#1a1a1a" stroke="#1a1a1a" stroke-width="0.15" textLength="4.5" lengthAdjust="spacingAndGlyphs">0</text>
<line x1="74.00" y1="215.40" x2="77.00" y2="215.40" stroke="#111" stroke-width="1.0"/>
<text x="72.30" y="217.94" font-size="7.1" text-anchor="end" fill="#1a1a1a" stroke="#1a1a1a" stroke-width="0.15" textLength="13.5" lengthAdjust="spacingAndGlyphs">100</text>
<line x1="74.00" y1="192.30" x2="77.00" y2="192.30" stroke="#111" stroke-width="1.0"/>
<text x="72.30" y="194.84" font-size="7.1" text-anchor="end" fill="#1a1a1a" stroke="#1a1a1a" stroke-width="0.15" textLength="13.5" lengthAdjust="spacingAndGlyphs">200</text>
<line x1="74.00" y1="169.20" x2="77.00" y2="169.20" stroke="#111" stroke-width="1.0"/>
<text x="72.30" y="171.74" font-size="7.1" text-anchor="end" fill="#1a1a1a" stroke="#1a1a1a" stroke-width="0.15" textLength="13.5" lengthAdjust="spacingAndGlyphs">300</text>
<line x1="78.75" y1="249.30" x2="78.75" y2="251.80" stroke="#111" stroke-width="1.0"/>
<text x="78.75" y="260.94" font-size="7.1" text-anchor="middle" fill="#1a1a1a" stroke="#1a1a1a" stroke-width="0.15" textLength="4.5" lengthAdjust="spacingAndGlyphs">0</text>
<line x1="105.53" y1="249.30" x2="105.53" y2="251.80" stroke="#111" stroke-width="1.0"/>
<text x="105.53" y="260.94" font-size="7.1" text-anchor="middle" fill="#1a1a1a" stroke="#1a1a1a" stroke-width="0.15" textLength="9.0" lengthAdjust="spacingAndGlyphs">10</text>
<line x1="132.31" y1="249.30" x2="132.31" y2="251.80" stroke="#111" stroke-width="1.0"/>
<text x="132.31" y="260.94" font-size="7.1" text-anchor="middle" fill="#1a1a1a" stroke="#1a1a1a" stroke-width="0.15" textLength="9.0" lengthAdjust="spacingAndGlyphs">20</text>
<line x1="159.09" y1="249.30" x2="159.09" y2="251.80" stroke="#111" stroke-width="1.0"/>
<text x="159.09" y="260.94" font-size="7.1" text-anchor="middle" fill="#1a1a1a" stroke="#1a1a1a" stroke-width="0.15" textLength="9.0" lengthAdjust="spacingAndGlyphs">30</text>
<line x1="185.87" y1="249.30" x2="185.87" y2="251.80" stroke="#111" stroke-width="1.0"/>
<text x="185.87" y="260.94" font-size="7.1" text-anchor="middle" fill="#1a1a1a" stroke="#1a1a1a" stroke-width="0.15" textLength="9.0" lengthAdjust="spacingAndGlyphs">40</text>
<line x1="212.65" y1="249.30" x2="212.65" y2="251.80" stroke="#111" stroke-width="1.0"/>
<text x="212.65" y="260.94" font-size="7.1" text-anchor="middle" fill="#1a1a1a" stroke="#1a1a1a" stroke-width="0.15" textLength="9.0" lengthAdjust="spacingAndGlyphs">50</text>
<line x1="239.43" y1="249.30" x2="239.43" y2="251.80" stroke="#111" stroke-width="1.0"/>
<text x="239.43" y="260.94" font-size="7.1" text-anchor="middle" fill="#1a1a1a" stroke="#1a1a1a" stroke-width="0.15" textLength="9.0" lengthAdjust="spacingAndGlyphs">60</text>
<line x1="266.21" y1="249.30" x2="266.21" y2="251.80" stroke="#111" stroke-width="1.0"/>
<text x="266.21" y="260.94" font-size="7.1" text-anchor="middle" fill="#1a1a1a" stroke="#1a1a1a" stroke-width="0.15" textLength="9.0" lengthAdjust="spacingAndGlyphs">70</text>
<line x1="292.99" y1="249.30" x2="292.99" y2="251.80" stroke="#111" stroke-width="1.0"/>
<text x="292.99" y="260.94" font-size="7.1" text-anchor="middle" fill="#1a1a1a" stroke="#1a1a1a" stroke-width="0.15" textLength="9.0" lengthAdjust="spacingAndGlyphs">80</text>
<line x1="319.77" y1="249.30" x2="319.77" y2="251.80" stroke="#111" stroke-width="1.0"/>
<text x="319.77" y="260.94" font-size="7.1" text-anchor="middle" fill="#1a1a1a" stroke="#1a1a1a" stroke-width="0.15" textLength="9.0" lengthAdjust="spacingAndGlyphs">90</text>
<text x="208.00" y="271.38" font-size="8.6" text-anchor="middle" fill="#1a1a1a" stroke="#1a1a1a" stroke-width="0.12" textLength="43.5" lengthAdjust="spacingAndGlyphs">Time (minutes)</text>
<text x="51.00" y="206.69" font-size="8.2" text-anchor="middle" fill="#1a1a1a" stroke="#1a1a1a" stroke-width="0.18" textLength="50.5" lengthAdjust="spacingAndGlyphs" transform="rotate(-90 51.00 203.75)">OCR (pmol / min)</text>
<rect x="124.00" y="158.00" width="8.00" height="91.30" fill="#4cbdec"/>
<rect x="124.00" y="158.00" width="8.00" height="7.00" fill="#5b2a80"/>
<line x1="133.40" y1="170.80" x2="133.40" y2="249.30" stroke="#3db54a" stroke-width="0.9"/>
<line x1="196.25" y1="170.00" x2="196.25" y2="249.30" stroke="#3db54a" stroke-width="0.9"/>
<line x1="259.00" y1="170.80" x2="259.00" y2="249.30" stroke="#3db54a" stroke-width="0.9"/>
<text x="111.00" y="148.48" font-size="7.2" text-anchor="start" fill="#1a1a1a" stroke="#1a1a1a" stroke-width="0.15" textLength="47" lengthAdjust="spacingAndGlyphs">Baseline OCR</text>
<line x1="127.55" y1="150.50" x2="127.55" y2="167.60" stroke="#000" stroke-width="1.3"/>
<polygon points="125.85,165.10 129.25,165.10 127.55,172.60" fill="#000"/>
<text x="132.70" y="168.98" font-size="7.2" text-anchor="start" fill="#1a1a1a" stroke="#1a1a1a" stroke-width="0.15" textLength="17.7" lengthAdjust="spacingAndGlyphs">Oligo</text>
<text x="184.50" y="169.18" font-size="7.2" text-anchor="start" fill="#1a1a1a" stroke="#1a1a1a" stroke-width="0.15" textLength="21.7" lengthAdjust="spacingAndGlyphs">FCCP</text>
<text x="243.10" y="160.08" font-size="7.2" text-anchor="start" fill="#1a1a1a" stroke="#1a1a1a" stroke-width="0.08" textLength="36.3" lengthAdjust="spacingAndGlyphs">Rotenone /</text>
<text x="242.20" y="169.48" font-size="7.2" text-anchor="start" fill="#1a1a1a" stroke="#1a1a1a" stroke-width="0.08" textLength="38.9" lengthAdjust="spacingAndGlyphs">Antimycin A</text>
<text x="295.40" y="147.61" font-size="7.3" text-anchor="start" fill="#1a1a1a" stroke="#1a1a1a" stroke-width="0.15" textLength="35.8" lengthAdjust="spacingAndGlyphs">OCI-AML3</text>
<line x1="77.00" y1="238.50" x2="321.00" y2="238.50" stroke="#111" stroke-width="1.1"/>
<circle cx="80.75" cy="238.5" r="1.2" fill="#111"/>
<circle cx="105.00" cy="238.5" r="1.2" fill="#111"/>
<circle cx="128.00" cy="238.5" r="1.2" fill="#111"/>
<polyline points="80.75,189.50 105.00,188.25 128.00,188.00 148.75,226.50 170.00,224.80 190.00,224.10 211.75,168.75 232.50,196.25 252.50,203.75 274.00,235.40 294.50,236.50 315.30,236.50" fill="none" stroke="#5b2a80" stroke-width="1.7" stroke-linejoin="round"/>
<line x1="80.75" y1="183.00" x2="80.75" y2="196.00" stroke="#5b2a80" stroke-width="1.1"/>
<line x1="79.05" y1="183.00" x2="82.45" y2="183.00" stroke="#5b2a80" stroke-width="1.1"/>
<line x1="79.05" y1="196.00" x2="82.45" y2="196.00" stroke="#5b2a80" stroke-width="1.1"/>
<circle cx="80.75" cy="189.50" r="2.0" fill="#5b2a80"/>
<line x1="105.00" y1="183.00" x2="105.00" y2="193.75" stroke="#5b2a80" stroke-width="1.1"/>
<line x1="103.30" y1="183.00" x2="106.70" y2="183.00" stroke="#5b2a80" stroke-width="1.1"/>
<line x1="103.30" y1="193.75" x2="106.70" y2="193.75" stroke="#5b2a80" stroke-width="1.1"/>
<circle cx="105.00" cy="188.25" r="2.0" fill="#5b2a80"/>
<line x1="128.00" y1="182.50" x2="128.00" y2="193.75" stroke="#5b2a80" stroke-width="1.1"/>
<line x1="126.30" y1="182.50" x2="129.70" y2="182.50" stroke="#5b2a80" stroke-width="1.1"/>
<line x1="126.30" y1="193.75" x2="129.70" y2="193.75" stroke="#5b2a80" stroke-width="1.1"/>
<circle cx="128.00" cy="188.00" r="2.0" fill="#5b2a80"/>
<circle cx="148.75" cy="226.50" r="2.0" fill="#5b2a80"/>
<circle cx="170.00" cy="224.80" r="2.0" fill="#5b2a80"/>
<circle cx="190.00" cy="224.10" r="2.0" fill="#5b2a80"/>
<line x1="211.75" y1="158.75" x2="211.75" y2="177.50" stroke="#5b2a80" stroke-width="1.1"/>
<line x1="210.05" y1="158.75" x2="213.45" y2="158.75" stroke="#5b2a80" stroke-width="1.1"/>
<line x1="210.05" y1="177.50" x2="213.45" y2="177.50" stroke="#5b2a80" stroke-width="1.1"/>
<circle cx="211.75" cy="168.75" r="2.0" fill="#5b2a80"/>
<line x1="232.50" y1="190.00" x2="232.50" y2="200.00" stroke="#5b2a80" stroke-width="1.1"/>
<line x1="230.80" y1="190.00" x2="234.20" y2="190.00" stroke="#5b2a80" stroke-width="1.1"/>
<line x1="230.80" y1="200.00" x2="234.20" y2="200.00" stroke="#5b2a80" stroke-width="1.1"/>
<circle cx="232.50" cy="196.25" r="2.0" fill="#5b2a80"/>
<line x1="252.50" y1="200.50" x2="252.50" y2="205.50" stroke="#5b2a80" stroke-width="1.1"/>
<line x1="250.80" y1="200.50" x2="254.20" y2="200.50" stroke="#5b2a80" stroke-width="1.1"/>
<line x1="250.80" y1="205.50" x2="254.20" y2="205.50" stroke="#5b2a80" stroke-width="1.1"/>
<circle cx="252.50" cy="203.75" r="2.0" fill="#5b2a80"/>
<circle cx="274.00" cy="235.40" r="2.0" fill="#5b2a80"/>
<circle cx="294.50" cy="236.50" r="2.0" fill="#5b2a80"/>
<circle cx="315.30" cy="236.50" r="2.0" fill="#5b2a80"/>
<polyline points="80.75,200.75 105.00,204.50 128.00,202.00 148.75,229.40 170.00,228.20 190.00,227.50 211.75,183.00 232.50,202.50 252.50,208.75 274.00,236.30 294.50,236.50 315.30,236.50" fill="none" stroke="#3db54a" stroke-width="1.7" stroke-linejoin="round"/>
<line x1="80.75" y1="193.25" x2="80.75" y2="209.50" stroke="#3db54a" stroke-width="1.1"/>
<line x1="79.05" y1="193.25" x2="82.45" y2="193.25" stroke="#3db54a" stroke-width="1.1"/>
<line x1="79.05" y1="209.50" x2="82.45" y2="209.50" stroke="#3db54a" stroke-width="1.1"/>
<circle cx="80.75" cy="200.75" r="2.0" fill="#3db54a"/>
<line x1="105.00" y1="187.50" x2="105.00" y2="215.00" stroke="#3db54a" stroke-width="1.1"/>
<line x1="103.30" y1="187.50" x2="106.70" y2="187.50" stroke="#3db54a" stroke-width="1.1"/>
<line x1="103.30" y1="215.00" x2="106.70" y2="215.00" stroke="#3db54a" stroke-width="1.1"/>
<circle cx="105.00" cy="204.50" r="2.0" fill="#3db54a"/>
<line x1="128.00" y1="193.75" x2="128.00" y2="210.50" stroke="#3db54a" stroke-width="1.1"/>
<line x1="126.30" y1="193.75" x2="129.70" y2="193.75" stroke="#3db54a" stroke-width="1.1"/>
<line x1="126.30" y1="210.50" x2="129.70" y2="210.50" stroke="#3db54a" stroke-width="1.1"/>
<circle cx="128.00" cy="202.00" r="2.0" fill="#3db54a"/>
<circle cx="148.75" cy="229.40" r="2.0" fill="#3db54a"/>
<circle cx="170.00" cy="228.20" r="2.0" fill="#3db54a"/>
<circle cx="190.00" cy="227.50" r="2.0" fill="#3db54a"/>
<line x1="211.75" y1="167.00" x2="211.75" y2="199.50" stroke="#3db54a" stroke-width="1.1"/>
<line x1="210.05" y1="167.00" x2="213.45" y2="167.00" stroke="#3db54a" stroke-width="1.1"/>
<line x1="210.05" y1="199.50" x2="213.45" y2="199.50" stroke="#3db54a" stroke-width="1.1"/>
<circle cx="211.75" cy="183.00" r="2.0" fill="#3db54a"/>
<line x1="232.50" y1="190.00" x2="232.50" y2="213.75" stroke="#3db54a" stroke-width="1.1"/>
<line x1="230.80" y1="190.00" x2="234.20" y2="190.00" stroke="#3db54a" stroke-width="1.1"/>
<line x1="230.80" y1="213.75" x2="234.20" y2="213.75" stroke="#3db54a" stroke-width="1.1"/>
<circle cx="232.50" cy="202.50" r="2.0" fill="#3db54a"/>
<line x1="252.50" y1="200.50" x2="252.50" y2="217.50" stroke="#3db54a" stroke-width="1.1"/>
<line x1="250.80" y1="200.50" x2="254.20" y2="200.50" stroke="#3db54a" stroke-width="1.1"/>
<line x1="250.80" y1="217.50" x2="254.20" y2="217.50" stroke="#3db54a" stroke-width="1.1"/>
<circle cx="252.50" cy="208.75" r="2.0" fill="#3db54a"/>
<circle cx="274.00" cy="236.30" r="2.0" fill="#3db54a"/>
<circle cx="294.50" cy="236.50" r="2.0" fill="#3db54a"/>
<circle cx="315.30" cy="236.50" r="2.0" fill="#3db54a"/>
<polyline points="80.75,236.25 105.00,234.50 128.00,233.75 148.75,237.10 170.00,237.10 190.00,237.10 211.75,235.75 232.50,237.00 252.50,238.25 274.00,238.20 294.50,238.20 315.30,238.20" fill="none" stroke="#c8102e" stroke-width="1.7" stroke-linejoin="round"/>
<circle cx="80.75" cy="236.25" r="2.0" fill="#c8102e"/>
<circle cx="105.00" cy="234.50" r="2.0" fill="#c8102e"/>
<circle cx="128.00" cy="233.75" r="2.0" fill="#c8102e"/>
<circle cx="148.75" cy="237.10" r="2.0" fill="#c8102e"/>
<circle cx="170.00" cy="237.10" r="2.0" fill="#c8102e"/>
<circle cx="190.00" cy="237.10" r="2.0" fill="#c8102e"/>
<circle cx="211.75" cy="235.75" r="2.0" fill="#c8102e"/>
<circle cx="232.50" cy="237.00" r="2.0" fill="#c8102e"/>
<circle cx="252.50" cy="238.25" r="2.0" fill="#c8102e"/>
<circle cx="274.00" cy="238.20" r="2.0" fill="#c8102e"/>
<circle cx="294.50" cy="238.20" r="2.0" fill="#c8102e"/>
<circle cx="315.30" cy="238.20" r="2.0" fill="#c8102e"/>
<polyline points="80.75,230.00 105.00,227.00 128.00,227.00 148.75,233.75 170.00,231.25 190.00,231.25 211.75,228.75 232.50,232.50 252.50,233.75 274.00,234.30 294.50,234.00 315.30,233.80" fill="none" stroke="#0f4f86" stroke-width="1.7" stroke-linejoin="round"/>
<line x1="80.75" y1="223.75" x2="80.75" y2="236.25" stroke="#0f4f86" stroke-width="1.1"/>
<line x1="79.05" y1="223.75" x2="82.45" y2="223.75" stroke="#0f4f86" stroke-width="1.1"/>
<line x1="79.05" y1="236.25" x2="82.45" y2="236.25" stroke="#0f4f86" stroke-width="1.1"/>
<circle cx="80.75" cy="230.00" r="2.0" fill="#0f4f86"/>
<line x1="105.00" y1="223.25" x2="105.00" y2="231.25" stroke="#0f4f86" stroke-width="1.1"/>
<line x1="103.30" y1="223.25" x2="106.70" y2="223.25" stroke="#0f4f86" stroke-width="1.1"/>
<line x1="103.30" y1="231.25" x2="106.70" y2="231.25" stroke="#0f4f86" stroke-width="1.1"/>
<circle cx="105.00" cy="227.00" r="2.0" fill="#0f4f86"/>
<line x1="128.00" y1="223.75" x2="128.00" y2="230.00" stroke="#0f4f86" stroke-width="1.1"/>
<line x1="126.30" y1="223.75" x2="129.70" y2="223.75" stroke="#0f4f86" stroke-width="1.1"/>
<line x1="126.30" y1="230.00" x2="129.70" y2="230.00" stroke="#0f4f86" stroke-width="1.1"/>
<circle cx="128.00" cy="227.00" r="2.0" fill="#0f4f86"/>
<circle cx="148.75" cy="233.75" r="2.0" fill="#0f4f86"/>
<circle cx="170.00" cy="231.25" r="2.0" fill="#0f4f86"/>
<circle cx="190.00" cy="231.25" r="2.0" fill="#0f4f86"/>
<line x1="211.75" y1="220.50" x2="211.75" y2="237.50" stroke="#0f4f86" stroke-width="1.1"/>
<line x1="210.05" y1="220.50" x2="213.45" y2="220.50" stroke="#0f4f86" stroke-width="1.1"/>
<line x1="210.05" y1="237.50" x2="213.45" y2="237.50" stroke="#0f4f86" stroke-width="1.1"/>
<circle cx="211.75" cy="228.75" r="2.0" fill="#0f4f86"/>
<line x1="232.50" y1="228.00" x2="232.50" y2="236.25" stroke="#0f4f86" stroke-width="1.1"/>
<line x1="230.80" y1="228.00" x2="234.20" y2="228.00" stroke="#0f4f86" stroke-width="1.1"/>
<line x1="230.80" y1="236.25" x2="234.20" y2="236.25" stroke="#0f4f86" stroke-width="1.1"/>
<circle cx="232.50" cy="232.50" r="2.0" fill="#0f4f86"/>
<line x1="252.50" y1="223.75" x2="252.50" y2="243.00" stroke="#0f4f86" stroke-width="1.1"/>
<line x1="250.80" y1="223.75" x2="254.20" y2="223.75" stroke="#0f4f86" stroke-width="1.1"/>
<line x1="250.80" y1="243.00" x2="254.20" y2="243.00" stroke="#0f4f86" stroke-width="1.1"/>
<circle cx="252.50" cy="233.75" r="2.0" fill="#0f4f86"/>
<line x1="274.00" y1="228.20" x2="274.00" y2="240.80" stroke="#0f4f86" stroke-width="1.1"/>
<line x1="272.30" y1="228.20" x2="275.70" y2="228.20" stroke="#0f4f86" stroke-width="1.1"/>
<line x1="272.30" y1="240.80" x2="275.70" y2="240.80" stroke="#0f4f86" stroke-width="1.1"/>
<circle cx="274.00" cy="234.30" r="2.0" fill="#0f4f86"/>
<line x1="294.50" y1="225.40" x2="294.50" y2="239.20" stroke="#0f4f86" stroke-width="1.1"/>
<line x1="292.80" y1="225.40" x2="296.20" y2="225.40" stroke="#0f4f86" stroke-width="1.1"/>
<line x1="292.80" y1="239.20" x2="296.20" y2="239.20" stroke="#0f4f86" stroke-width="1.1"/>
<circle cx="294.50" cy="234.00" r="2.0" fill="#0f4f86"/>
<line x1="315.30" y1="226.60" x2="315.30" y2="235.40" stroke="#0f4f86" stroke-width="1.1"/>
<line x1="313.60" y1="226.60" x2="317.00" y2="226.60" stroke="#0f4f86" stroke-width="1.1"/>
<line x1="313.60" y1="235.40" x2="317.00" y2="235.40" stroke="#0f4f86" stroke-width="1.1"/>
<circle cx="315.30" cy="233.80" r="2.0" fill="#0f4f86"/>
<rect x="273.30" y="175.45" width="8.30" height="8.30" fill="#5b2a80" stroke="#444" stroke-width="0.8"/>
<text x="283.30" y="182.38" font-size="7.2" text-anchor="start" fill="#1a1a1a" stroke="#1a1a1a" stroke-width="0.04" textLength="55.7" lengthAdjust="spacingAndGlyphs">IACS (–) MSC (–)</text>
<rect x="273.30" y="185.75" width="8.30" height="8.30" fill="#3db54a" stroke="#444" stroke-width="0.8"/>
<text x="283.30" y="192.48" font-size="7.2" text-anchor="start" fill="#1a1a1a" stroke="#1a1a1a" stroke-width="0.04" textLength="55.7" lengthAdjust="spacingAndGlyphs">IACS (–) MSC (+)</text>
<rect x="273.30" y="196.85" width="8.30" height="8.30" fill="#0f4f86" stroke="#444" stroke-width="0.8"/>
<text x="283.30" y="203.18" font-size="7.2" text-anchor="start" fill="#1a1a1a" stroke="#1a1a1a" stroke-width="0.04" textLength="55.7" lengthAdjust="spacingAndGlyphs">IACS (+) MSC (+)</text>
<rect x="273.30" y="206.20" width="8.30" height="8.30" fill="#c8102e" stroke="#444" stroke-width="0.8"/>
<text x="283.30" y="212.28" font-size="7.2" text-anchor="start" fill="#1a1a1a" stroke="#1a1a1a" stroke-width="0.04" textLength="55.7" lengthAdjust="spacingAndGlyphs">IACS (+) MSC (–)</text>
<line x1="381.30" y1="150.10" x2="381.30" y2="246.20" stroke="#111" stroke-width="1.3"/>
<line x1="380.80" y1="245.70" x2="430.00" y2="245.70" stroke="#111" stroke-width="1.3"/>
<line x1="378.80" y1="245.70" x2="381.30" y2="245.70" stroke="#111" stroke-width="1.0"/>
<text x="376.80" y="248.38" font-size="7.5" text-anchor="end" fill="#1a1a1a" stroke="#1a1a1a" stroke-width="0.1" textLength="4.5" lengthAdjust="spacingAndGlyphs">0</text>
<line x1="378.80" y1="226.68" x2="381.30" y2="226.68" stroke="#111" stroke-width="1.0"/>
<text x="376.80" y="229.36" font-size="7.5" text-anchor="end" fill="#1a1a1a" stroke="#1a1a1a" stroke-width="0.1" textLength="9.0" lengthAdjust="spacingAndGlyphs">50</text>
<line x1="378.80" y1="207.66" x2="381.30" y2="207.66" stroke="#111" stroke-width="1.0"/>
<text x="376.80" y="210.34" font-size="7.5" text-anchor="end" fill="#1a1a1a" stroke="#1a1a1a" stroke-width="0.1" textLength="13.5" lengthAdjust="spacingAndGlyphs">100</text>
<line x1="378.80" y1="188.64" x2="381.30" y2="188.64" stroke="#111" stroke-width="1.0"/>
<text x="376.80" y="191.32" font-size="7.5" text-anchor="end" fill="#1a1a1a" stroke="#1a1a1a" stroke-width="0.1" textLength="13.5" lengthAdjust="spacingAndGlyphs">150</text>
<line x1="378.80" y1="169.62" x2="381.30" y2="169.62" stroke="#111" stroke-width="1.0"/>
<text x="376.80" y="172.31" font-size="7.5" text-anchor="end" fill="#1a1a1a" stroke="#1a1a1a" stroke-width="0.1" textLength="13.5" lengthAdjust="spacingAndGlyphs">200</text>
<line x1="378.80" y1="150.60" x2="381.30" y2="150.60" stroke="#111" stroke-width="1.0"/>
<text x="376.80" y="153.28" font-size="7.5" text-anchor="end" fill="#1a1a1a" stroke="#1a1a1a" stroke-width="0.1" textLength="13.5" lengthAdjust="spacingAndGlyphs">250</text>
<line x1="387.65" y1="162.01" x2="387.65" y2="165.82" stroke="#111" stroke-width="1.0"/>
<line x1="385.95" y1="162.01" x2="389.35" y2="162.01" stroke="#111" stroke-width="1.0"/>
<line x1="385.95" y1="165.82" x2="389.35" y2="165.82" stroke="#111" stroke-width="1.0"/>
<rect x="383.70" y="163.91" width="7.90" height="81.79" fill="#0f4f86" stroke="#1a1a1a" stroke-width="0.8"/>
<line x1="387.65" y1="163.91" x2="387.65" y2="165.82" stroke="#111" stroke-width="1.0"/>
<line x1="385.95" y1="165.82" x2="389.35" y2="165.82" stroke="#111" stroke-width="1.0"/>
<line x1="399.10" y1="236.95" x2="399.10" y2="240.75" stroke="#111" stroke-width="1.0"/>
<line x1="397.40" y1="236.95" x2="400.80" y2="236.95" stroke="#111" stroke-width="1.0"/>
<line x1="397.40" y1="240.75" x2="400.80" y2="240.75" stroke="#111" stroke-width="1.0"/>
<rect x="395.20" y="238.85" width="7.80" height="6.85" fill="#3db54a" stroke="#1a1a1a" stroke-width="0.8"/>
<line x1="399.10" y1="238.85" x2="399.10" y2="240.75" stroke="#111" stroke-width="1.0"/>
<line x1="397.40" y1="240.75" x2="400.80" y2="240.75" stroke="#111" stroke-width="1.0"/>
<line x1="411.35" y1="173.42" x2="411.35" y2="197.77" stroke="#111" stroke-width="1.0"/>
<line x1="409.65" y1="173.42" x2="413.05" y2="173.42" stroke="#111" stroke-width="1.0"/>
<line x1="409.65" y1="197.77" x2="413.05" y2="197.77" stroke="#111" stroke-width="1.0"/>
<rect x="407.20" y="185.60" width="8.30" height="60.10" fill="#5b2a80" stroke="#1a1a1a" stroke-width="0.8"/>
<line x1="411.35" y1="185.60" x2="411.35" y2="197.77" stroke="#111" stroke-width="1.0"/>
<line x1="409.65" y1="197.77" x2="413.05" y2="197.77" stroke="#111" stroke-width="1.0"/>
<line x1="423.30" y1="223.26" x2="423.30" y2="228.58" stroke="#111" stroke-width="1.0"/>
<line x1="421.60" y1="223.26" x2="425.00" y2="223.26" stroke="#111" stroke-width="1.0"/>
<line x1="421.60" y1="228.58" x2="425.00" y2="228.58" stroke="#111" stroke-width="1.0"/>
<rect x="419.40" y="225.92" width="7.80" height="19.78" fill="#f8b71a" stroke="#1a1a1a" stroke-width="0.8"/>
<line x1="423.30" y1="225.92" x2="423.30" y2="228.58" stroke="#111" stroke-width="1.0"/>
<line x1="421.60" y1="228.58" x2="425.00" y2="228.58" stroke="#111" stroke-width="1.0"/>
<text x="364.30" y="255.81" font-size="7" text-anchor="start" fill="#1a1a1a" stroke="#1a1a1a" stroke-width="0.1" textLength="13.7" lengthAdjust="spacingAndGlyphs">IACS</text>
<text x="387.50" y="255.81" font-size="7" text-anchor="middle" fill="#1a1a1a" stroke="#1a1a1a" stroke-width="0.1" textLength="4.4" lengthAdjust="spacingAndGlyphs">–</text>
<text x="399.30" y="255.81" font-size="7" text-anchor="middle" fill="#1a1a1a" stroke="#1a1a1a" stroke-width="0.1">+</text>
<text x="411.50" y="255.81" font-size="7" text-anchor="middle" fill="#1a1a1a" stroke="#1a1a1a" stroke-width="0.1" textLength="4.4" lengthAdjust="spacingAndGlyphs">–</text>
<text x="423.80" y="255.81" font-size="7" text-anchor="middle" fill="#1a1a1a" stroke="#1a1a1a" stroke-width="0.1">+</text>
<line x1="381.60" y1="257.30" x2="403.30" y2="257.30" stroke="#111" stroke-width="1.0"/>
<line x1="408.30" y1="257.30" x2="430.70" y2="257.30" stroke="#111" stroke-width="1.0"/>
<text x="381.60" y="264.51" font-size="7" text-anchor="start" fill="#1a1a1a" stroke="#1a1a1a" stroke-width="0.05" textLength="22.4" lengthAdjust="spacingAndGlyphs">MSC (–)</text>
<text x="408.30" y="264.51" font-size="7" text-anchor="start" fill="#1a1a1a" stroke="#1a1a1a" stroke-width="0.05" textLength="23.1" lengthAdjust="spacingAndGlyphs">MSC (+)</text>
<text x="355.40" y="201.03" font-size="7.9" text-anchor="middle" fill="#1a1a1a" stroke="#1a1a1a" stroke-width="0.18" textLength="51.5" lengthAdjust="spacingAndGlyphs" transform="rotate(-90 355.40 198.20)">OCR (pmol / min)</text>
<line x1="483.40" y1="150.60" x2="483.40" y2="247.00" stroke="#111" stroke-width="1.3"/>
<line x1="482.90" y1="246.50" x2="504.60" y2="246.50" stroke="#111" stroke-width="1.3"/>
<line x1="480.90" y1="246.50" x2="483.40" y2="246.50" stroke="#111" stroke-width="1.0"/>
<text x="477.60" y="249.19" font-size="7.5" text-anchor="end" fill="#1a1a1a" stroke="#1a1a1a" stroke-width="0.1" textLength="4.7" lengthAdjust="spacingAndGlyphs">0</text>
<line x1="480.90" y1="227.42" x2="483.40" y2="227.42" stroke="#111" stroke-width="1.0"/>
<text x="477.60" y="230.10" font-size="7.5" text-anchor="end" fill="#1a1a1a" stroke="#1a1a1a" stroke-width="0.1" textLength="9.4" lengthAdjust="spacingAndGlyphs">50</text>
<line x1="480.90" y1="208.34" x2="483.40" y2="208.34" stroke="#111" stroke-width="1.0"/>
<text x="477.60" y="211.03" font-size="7.5" text-anchor="end" fill="#1a1a1a" stroke="#1a1a1a" stroke-width="0.1" textLength="14.1" lengthAdjust="spacingAndGlyphs">100</text>
<line x1="480.90" y1="189.26" x2="483.40" y2="189.26" stroke="#111" stroke-width="1.0"/>
<text x="477.60" y="191.94" font-size="7.5" text-anchor="end" fill="#1a1a1a" stroke="#1a1a1a" stroke-width="0.1" textLength="14.1" lengthAdjust="spacingAndGlyphs">150</text>
<line x1="480.90" y1="170.18" x2="483.40" y2="170.18" stroke="#111" stroke-width="1.0"/>
<text x="477.60" y="172.87" font-size="7.5" text-anchor="end" fill="#1a1a1a" stroke="#1a1a1a" stroke-width="0.1" textLength="14.1" lengthAdjust="spacingAndGlyphs">200</text>
<line x1="480.90" y1="151.10" x2="483.40" y2="151.10" stroke="#111" stroke-width="1.0"/>
<text x="477.60" y="153.78" font-size="7.5" text-anchor="end" fill="#1a1a1a" stroke="#1a1a1a" stroke-width="0.1" textLength="14.1" lengthAdjust="spacingAndGlyphs">250</text>
<line x1="489.00" y1="164.46" x2="489.00" y2="166.75" stroke="#111" stroke-width="1.0"/>
<line x1="487.30" y1="164.46" x2="490.70" y2="164.46" stroke="#111" stroke-width="1.0"/>
<line x1="487.30" y1="166.75" x2="490.70" y2="166.75" stroke="#111" stroke-width="1.0"/>
<rect x="485.10" y="165.60" width="7.80" height="80.90" fill="#c8102e" stroke="#1a1a1a" stroke-width="0.8"/>
<line x1="489.00" y1="165.60" x2="489.00" y2="166.75" stroke="#111" stroke-width="1.0"/>
<line x1="487.30" y1="166.75" x2="490.70" y2="166.75" stroke="#111" stroke-width="1.0"/>
<line x1="498.90" y1="196.89" x2="498.90" y2="215.97" stroke="#111" stroke-width="1.0"/>
<line x1="497.20" y1="196.89" x2="500.60" y2="196.89" stroke="#111" stroke-width="1.0"/>
<line x1="497.20" y1="215.97" x2="500.60" y2="215.97" stroke="#111" stroke-width="1.0"/>
<rect x="495.00" y="206.43" width="7.80" height="40.07" fill="#0f4f86" stroke="#1a1a1a" stroke-width="0.8"/>
<line x1="498.90" y1="206.43" x2="498.90" y2="215.97" stroke="#111" stroke-width="1.0"/>
<line x1="497.20" y1="215.97" x2="500.60" y2="215.97" stroke="#111" stroke-width="1.0"/>
<line x1="490.20" y1="153.20" x2="497.80" y2="153.20" stroke="#111" stroke-width="1.2"/>
<polygon points="493.80,147.30 494.36,148.43 495.61,148.61 494.70,149.49 494.92,150.74 493.80,150.15 492.68,150.74 492.90,149.49 491.99,148.61 493.24,148.43" fill="#111"/>
<text x="462.80" y="256.91" font-size="7.3" text-anchor="start" fill="#1a1a1a" stroke="#1a1a1a" stroke-width="0.1" textLength="17" lengthAdjust="spacingAndGlyphs">MSC</text>
<text x="488.45" y="256.81" font-size="7.3" text-anchor="middle" fill="#1a1a1a" stroke="#1a1a1a" stroke-width="0.1" textLength="4.7" lengthAdjust="spacingAndGlyphs">–</text>
<text x="499.40" y="256.81" font-size="7.3" text-anchor="middle" fill="#1a1a1a" stroke="#1a1a1a" stroke-width="0.1">+</text>
<text x="446.00" y="202.25" font-size="8.8" text-anchor="middle" fill="#1a1a1a" stroke="#1a1a1a" stroke-width="0.18" textLength="66" lengthAdjust="spacingAndGlyphs" transform="rotate(-90 446.00 199.10)">Decreased OCR by IACS</text>
<text x="457.30" y="202.35" font-size="8.8" text-anchor="middle" fill="#1a1a1a" stroke="#1a1a1a" stroke-width="0.18" textLength="65" lengthAdjust="spacingAndGlyphs" transform="rotate(-90 457.30 199.20)">treatment (pmol / min)</text>
<line x1="77.30" y1="287.50" x2="77.30" y2="395.50" stroke="#111" stroke-width="1.4"/>
<line x1="76.60" y1="395.00" x2="320.60" y2="395.00" stroke="#111" stroke-width="1.3"/>
<line x1="74.30" y1="391.00" x2="77.30" y2="391.00" stroke="#111" stroke-width="1.0"/>
<text x="71.30" y="393.54" font-size="7.1" text-anchor="end" fill="#1a1a1a" stroke="#1a1a1a" stroke-width="0.15" textLength="4.4" lengthAdjust="spacingAndGlyphs">0</text>
<line x1="74.30" y1="365.38" x2="77.30" y2="365.38" stroke="#111" stroke-width="1.0"/>
<text x="71.30" y="367.92" font-size="7.1" text-anchor="end" fill="#1a1a1a" stroke="#1a1a1a" stroke-width="0.15" textLength="13.2" lengthAdjust="spacingAndGlyphs">500</text>
<line x1="74.30" y1="339.75" x2="77.30" y2="339.75" stroke="#111" stroke-width="1.0"/>
<text x="71.30" y="342.29" font-size="7.1" text-anchor="end" fill="#1a1a1a" stroke="#1a1a1a" stroke-width="0.15" textLength="17.6" lengthAdjust="spacingAndGlyphs">1000</text>
<line x1="74.30" y1="314.12" x2="77.30" y2="314.12" stroke="#111" stroke-width="1.0"/>
<text x="71.30" y="316.67" font-size="7.1" text-anchor="end" fill="#1a1a1a" stroke="#1a1a1a" stroke-width="0.15" textLength="17.6" lengthAdjust="spacingAndGlyphs">1500</text>
<line x1="74.30" y1="288.50" x2="77.30" y2="288.50" stroke="#111" stroke-width="1.0"/>
<text x="71.30" y="291.04" font-size="7.1" text-anchor="end" fill="#1a1a1a" stroke="#1a1a1a" stroke-width="0.15" textLength="17.6" lengthAdjust="spacingAndGlyphs">2000</text>
<line x1="78.75" y1="395.00" x2="78.75" y2="397.50" stroke="#111" stroke-width="1.0"/>
<text x="78.75" y="407.04" font-size="7.1" text-anchor="middle" fill="#1a1a1a" stroke="#1a1a1a" stroke-width="0.15" textLength="4.5" lengthAdjust="spacingAndGlyphs">0</text>
<line x1="107.00" y1="395.00" x2="107.00" y2="397.50" stroke="#111" stroke-width="1.0"/>
<text x="107.00" y="407.04" font-size="7.1" text-anchor="middle" fill="#1a1a1a" stroke="#1a1a1a" stroke-width="0.15" textLength="9.0" lengthAdjust="spacingAndGlyphs">10</text>
<line x1="133.75" y1="395.00" x2="133.75" y2="397.50" stroke="#111" stroke-width="1.0"/>
<text x="133.75" y="407.04" font-size="7.1" text-anchor="middle" fill="#1a1a1a" stroke="#1a1a1a" stroke-width="0.15" textLength="9.0" lengthAdjust="spacingAndGlyphs">20</text>
<line x1="162.50" y1="395.00" x2="162.50" y2="397.50" stroke="#111" stroke-width="1.0"/>
<text x="162.50" y="407.04" font-size="7.1" text-anchor="middle" fill="#1a1a1a" stroke="#1a1a1a" stroke-width="0.15" textLength="9.0" lengthAdjust="spacingAndGlyphs">30</text>
<line x1="189.50" y1="395.00" x2="189.50" y2="397.50" stroke="#111" stroke-width="1.0"/>
<text x="189.50" y="407.04" font-size="7.1" text-anchor="middle" fill="#1a1a1a" stroke="#1a1a1a" stroke-width="0.15" textLength="9.0" lengthAdjust="spacingAndGlyphs">40</text>
<line x1="218.00" y1="395.00" x2="218.00" y2="397.50" stroke="#111" stroke-width="1.0"/>
<text x="218.00" y="407.04" font-size="7.1" text-anchor="middle" fill="#1a1a1a" stroke="#1a1a1a" stroke-width="0.15" textLength="9.0" lengthAdjust="spacingAndGlyphs">50</text>
<line x1="244.50" y1="395.00" x2="244.50" y2="397.50" stroke="#111" stroke-width="1.0"/>
<text x="244.50" y="407.04" font-size="7.1" text-anchor="middle" fill="#1a1a1a" stroke="#1a1a1a" stroke-width="0.15" textLength="9.0" lengthAdjust="spacingAndGlyphs">60</text>
<line x1="271.25" y1="395.00" x2="271.25" y2="397.50" stroke="#111" stroke-width="1.0"/>
<text x="271.25" y="407.04" font-size="7.1" text-anchor="middle" fill="#1a1a1a" stroke="#1a1a1a" stroke-width="0.15" textLength="9.0" lengthAdjust="spacingAndGlyphs">70</text>
<line x1="298.75" y1="395.00" x2="298.75" y2="397.50" stroke="#111" stroke-width="1.0"/>
<text x="298.75" y="407.04" font-size="7.1" text-anchor="middle" fill="#1a1a1a" stroke="#1a1a1a" stroke-width="0.15" textLength="9.0" lengthAdjust="spacingAndGlyphs">80</text>
<text x="207.70" y="417.38" font-size="8.6" text-anchor="middle" fill="#1a1a1a" stroke="#1a1a1a" stroke-width="0.12" textLength="43" lengthAdjust="spacingAndGlyphs">Time (minutes)</text>
<text x="46.30" y="344.84" font-size="8.2" text-anchor="middle" fill="#1a1a1a" stroke="#1a1a1a" stroke-width="0.18" textLength="50.4" lengthAdjust="spacingAndGlyphs" transform="rotate(-90 46.30 341.90)">OCR (pmol / min)</text>
<rect x="123.80" y="288.20" width="8.20" height="106.80" fill="#4cbdec"/>
<rect x="123.80" y="288.20" width="8.20" height="4.70" fill="#5b2a80"/>
<line x1="133.45" y1="298.40" x2="133.45" y2="395.00" stroke="#3db54a" stroke-width="0.9"/>
<line x1="196.40" y1="298.60" x2="196.40" y2="395.00" stroke="#3db54a" stroke-width="0.9"/>
<line x1="258.00" y1="298.60" x2="258.00" y2="395.00" stroke="#3db54a" stroke-width="0.9"/>
<text x="109.80" y="277.28" font-size="7.2" text-anchor="start" fill="#1a1a1a" stroke="#1a1a1a" stroke-width="0.15" textLength="44.2" lengthAdjust="spacingAndGlyphs">Baseline OCR</text>
<line x1="127.60" y1="281.20" x2="127.60" y2="297.60" stroke="#000" stroke-width="1.3"/>
<polygon points="125.90,295.10 129.30,295.10 127.60,302.60" fill="#000"/>
<text x="133.00" y="296.78" font-size="7.2" text-anchor="start" fill="#1a1a1a" stroke="#1a1a1a" stroke-width="0.15" textLength="17" lengthAdjust="spacingAndGlyphs">Oligo</text>
<text x="184.00" y="296.78" font-size="7.2" text-anchor="start" fill="#1a1a1a" stroke="#1a1a1a" stroke-width="0.15" textLength="21.7" lengthAdjust="spacingAndGlyphs">FCCP</text>
<text x="237.80" y="287.38" font-size="7.2" text-anchor="start" fill="#1a1a1a" stroke="#1a1a1a" stroke-width="0.08" textLength="36" lengthAdjust="spacingAndGlyphs">Rotenone /</text>
<text x="236.30" y="296.88" font-size="7.2" text-anchor="start" fill="#1a1a1a" stroke="#1a1a1a" stroke-width="0.08" textLength="38.7" lengthAdjust="spacingAndGlyphs">Antimycin A</text>
<text x="304.10" y="288.35" font-size="7.4" text-anchor="start" fill="#1a1a1a" stroke="#1a1a1a" stroke-width="0.15" textLength="29.8" lengthAdjust="spacingAndGlyphs">MOLM13</text>
<circle cx="81.25" cy="395" r="1.2" fill="#111"/>
<circle cx="104.50" cy="395" r="1.2" fill="#111"/>
<circle cx="127.50" cy="395" r="1.2" fill="#111"/>
<circle cx="148.75" cy="395" r="1.2" fill="#111"/>
<circle cx="169.60" cy="395" r="1.2" fill="#111"/>
<circle cx="190.70" cy="395" r="1.2" fill="#111"/>
<circle cx="211.25" cy="395" r="1.2" fill="#111"/>
<circle cx="232.00" cy="395" r="1.2" fill="#111"/>
<circle cx="252.40" cy="395" r="1.2" fill="#111"/>
<circle cx="274.30" cy="395" r="1.2" fill="#111"/>
<circle cx="294.60" cy="395" r="1.2" fill="#111"/>
<circle cx="314.60" cy="395" r="1.2" fill="#111"/>
<polyline points="81.25,359.20 104.50,359.20 127.50,359.20 148.75,380.00 169.60,380.70 190.70,380.70 211.25,314.80 232.00,325.50 252.40,327.80 274.30,390.30 294.60,388.50 314.60,388.50" fill="none" stroke="#5b2a80" stroke-width="1.7" stroke-linejoin="round"/>
<line x1="81.25" y1="353.50" x2="81.25" y2="363.50" stroke="#5b2a80" stroke-width="1.1"/>
<line x1="79.55" y1="353.50" x2="82.95" y2="353.50" stroke="#5b2a80" stroke-width="1.1"/>
<line x1="79.55" y1="363.50" x2="82.95" y2="363.50" stroke="#5b2a80" stroke-width="1.1"/>
<circle cx="81.25" cy="359.20" r="2.0" fill="#5b2a80"/>
<line x1="104.50" y1="355.50" x2="104.50" y2="362.00" stroke="#5b2a80" stroke-width="1.1"/>
<line x1="102.80" y1="355.50" x2="106.20" y2="355.50" stroke="#5b2a80" stroke-width="1.1"/>
<line x1="102.80" y1="362.00" x2="106.20" y2="362.00" stroke="#5b2a80" stroke-width="1.1"/>
<circle cx="104.50" cy="359.20" r="2.0" fill="#5b2a80"/>
<line x1="127.50" y1="356.00" x2="127.50" y2="361.50" stroke="#5b2a80" stroke-width="1.1"/>
<line x1="125.80" y1="356.00" x2="129.20" y2="356.00" stroke="#5b2a80" stroke-width="1.1"/>
<line x1="125.80" y1="361.50" x2="129.20" y2="361.50" stroke="#5b2a80" stroke-width="1.1"/>
<circle cx="127.50" cy="359.20" r="2.0" fill="#5b2a80"/>
<line x1="148.75" y1="375.00" x2="148.75" y2="383.75" stroke="#5b2a80" stroke-width="1.1"/>
<line x1="147.05" y1="375.00" x2="150.45" y2="375.00" stroke="#5b2a80" stroke-width="1.1"/>
<line x1="147.05" y1="383.75" x2="150.45" y2="383.75" stroke="#5b2a80" stroke-width="1.1"/>
<circle cx="148.75" cy="380.00" r="2.0" fill="#5b2a80"/>
<line x1="169.60" y1="378.00" x2="169.60" y2="383.00" stroke="#5b2a80" stroke-width="1.1"/>
<line x1="167.90" y1="378.00" x2="171.30" y2="378.00" stroke="#5b2a80" stroke-width="1.1"/>
<line x1="167.90" y1="383.00" x2="171.30" y2="383.00" stroke="#5b2a80" stroke-width="1.1"/>
<circle cx="169.60" cy="380.70" r="2.0" fill="#5b2a80"/>
<line x1="190.70" y1="378.00" x2="190.70" y2="383.00" stroke="#5b2a80" stroke-width="1.1"/>
<line x1="189.00" y1="378.00" x2="192.40" y2="378.00" stroke="#5b2a80" stroke-width="1.1"/>
<line x1="189.00" y1="383.00" x2="192.40" y2="383.00" stroke="#5b2a80" stroke-width="1.1"/>
<circle cx="190.70" cy="380.70" r="2.0" fill="#5b2a80"/>
<line x1="211.25" y1="298.00" x2="211.25" y2="331.20" stroke="#5b2a80" stroke-width="1.1"/>
<line x1="209.55" y1="298.00" x2="212.95" y2="298.00" stroke="#5b2a80" stroke-width="1.1"/>
<line x1="209.55" y1="331.20" x2="212.95" y2="331.20" stroke="#5b2a80" stroke-width="1.1"/>
<circle cx="211.25" cy="314.80" r="2.0" fill="#5b2a80"/>
<line x1="232.00" y1="311.70" x2="232.00" y2="339.80" stroke="#5b2a80" stroke-width="1.1"/>
<line x1="230.30" y1="311.70" x2="233.70" y2="311.70" stroke="#5b2a80" stroke-width="1.1"/>
<line x1="230.30" y1="339.80" x2="233.70" y2="339.80" stroke="#5b2a80" stroke-width="1.1"/>
<circle cx="232.00" cy="325.50" r="2.0" fill="#5b2a80"/>
<line x1="252.40" y1="311.70" x2="252.40" y2="341.60" stroke="#5b2a80" stroke-width="1.1"/>
<line x1="250.70" y1="311.70" x2="254.10" y2="311.70" stroke="#5b2a80" stroke-width="1.1"/>
<line x1="250.70" y1="341.60" x2="254.10" y2="341.60" stroke="#5b2a80" stroke-width="1.1"/>
<circle cx="252.40" cy="327.80" r="2.0" fill="#5b2a80"/>
<circle cx="274.30" cy="390.30" r="2.0" fill="#5b2a80"/>
<line x1="294.60" y1="385.90" x2="294.60" y2="391.00" stroke="#5b2a80" stroke-width="1.1"/>
<line x1="292.90" y1="385.90" x2="296.30" y2="385.90" stroke="#5b2a80" stroke-width="1.1"/>
<line x1="292.90" y1="391.00" x2="296.30" y2="391.00" stroke="#5b2a80" stroke-width="1.1"/>
<circle cx="294.60" cy="388.50" r="2.0" fill="#5b2a80"/>
<line x1="314.60" y1="385.40" x2="314.60" y2="392.40" stroke="#5b2a80" stroke-width="1.1"/>
<line x1="312.90" y1="385.40" x2="316.30" y2="385.40" stroke="#5b2a80" stroke-width="1.1"/>
<line x1="312.90" y1="392.40" x2="316.30" y2="392.40" stroke="#5b2a80" stroke-width="1.1"/>
<circle cx="314.60" cy="388.50" r="2.0" fill="#5b2a80"/>
<polyline points="81.25,363.30 104.50,363.60 127.50,363.80 148.75,382.00 169.60,382.50 190.70,382.50 211.25,335.60 232.00,340.80 252.40,344.20 274.30,391.00 294.60,390.00 314.60,389.50" fill="none" stroke="#3db54a" stroke-width="1.7" stroke-linejoin="round"/>
<line x1="81.25" y1="356.25" x2="81.25" y2="368.75" stroke="#3db54a" stroke-width="1.1"/>
<line x1="79.55" y1="356.25" x2="82.95" y2="356.25" stroke="#3db54a" stroke-width="1.1"/>
<line x1="79.55" y1="368.75" x2="82.95" y2="368.75" stroke="#3db54a" stroke-width="1.1"/>
<circle cx="81.25" cy="363.30" r="2.0" fill="#3db54a"/>
<line x1="104.50" y1="358.75" x2="104.50" y2="368.75" stroke="#3db54a" stroke-width="1.1"/>
<line x1="102.80" y1="358.75" x2="106.20" y2="358.75" stroke="#3db54a" stroke-width="1.1"/>
<line x1="102.80" y1="368.75" x2="106.20" y2="368.75" stroke="#3db54a" stroke-width="1.1"/>
<circle cx="104.50" cy="363.60" r="2.0" fill="#3db54a"/>
<line x1="127.50" y1="358.75" x2="127.50" y2="368.75" stroke="#3db54a" stroke-width="1.1"/>
<line x1="125.80" y1="358.75" x2="129.20" y2="358.75" stroke="#3db54a" stroke-width="1.1"/>
<line x1="125.80" y1="368.75" x2="129.20" y2="368.75" stroke="#3db54a" stroke-width="1.1"/>
<circle cx="127.50" cy="363.80" r="2.0" fill="#3db54a"/>
<line x1="148.75" y1="378.75" x2="148.75" y2="385.00" stroke="#3db54a" stroke-width="1.1"/>
<line x1="147.05" y1="378.75" x2="150.45" y2="378.75" stroke="#3db54a" stroke-width="1.1"/>
<line x1="147.05" y1="385.00" x2="150.45" y2="385.00" stroke="#3db54a" stroke-width="1.1"/>
<circle cx="148.75" cy="382.00" r="2.0" fill="#3db54a"/>
<circle cx="169.60" cy="382.50" r="2.0" fill="#3db54a"/>
<circle cx="190.70" cy="382.50" r="2.0" fill="#3db54a"/>
<line x1="211.25" y1="332.00" x2="211.25" y2="339.00" stroke="#3db54a" stroke-width="1.1"/>
<line x1="209.55" y1="332.00" x2="212.95" y2="332.00" stroke="#3db54a" stroke-width="1.1"/>
<line x1="209.55" y1="339.00" x2="212.95" y2="339.00" stroke="#3db54a" stroke-width="1.1"/>
<circle cx="211.25" cy="335.60" r="2.0" fill="#3db54a"/>
<line x1="232.00" y1="337.00" x2="232.00" y2="345.50" stroke="#3db54a" stroke-width="1.1"/>
<line x1="230.30" y1="337.00" x2="233.70" y2="337.00" stroke="#3db54a" stroke-width="1.1"/>
<line x1="230.30" y1="345.50" x2="233.70" y2="345.50" stroke="#3db54a" stroke-width="1.1"/>
<circle cx="232.00" cy="340.80" r="2.0" fill="#3db54a"/>
<line x1="252.40" y1="341.60" x2="252.40" y2="348.00" stroke="#3db54a" stroke-width="1.1"/>
<line x1="250.70" y1="341.60" x2="254.10" y2="341.60" stroke="#3db54a" stroke-width="1.1"/>
<line x1="250.70" y1="348.00" x2="254.10" y2="348.00" stroke="#3db54a" stroke-width="1.1"/>
<circle cx="252.40" cy="344.20" r="2.0" fill="#3db54a"/>
<circle cx="274.30" cy="391.00" r="2.0" fill="#3db54a"/>
<circle cx="294.60" cy="390.00" r="2.0" fill="#3db54a"/>
<circle cx="314.60" cy="389.50" r="2.0" fill="#3db54a"/>
<polyline points="81.25,383.75 104.50,383.00 127.50,382.00 148.75,392.50 169.60,392.40 190.70,392.00 211.25,389.30 232.00,390.30 252.40,391.80 274.30,392.40 294.60,392.40 314.60,392.40" fill="none" stroke="#0f4f86" stroke-width="1.7" stroke-linejoin="round"/>
<circle cx="81.25" cy="383.75" r="2.0" fill="#0f4f86"/>
<circle cx="104.50" cy="383.00" r="2.0" fill="#0f4f86"/>
<circle cx="127.50" cy="382.00" r="2.0" fill="#0f4f86"/>
<circle cx="148.75" cy="392.50" r="2.0" fill="#0f4f86"/>
<circle cx="169.60" cy="392.40" r="2.0" fill="#0f4f86"/>
<circle cx="190.70" cy="392.00" r="2.0" fill="#0f4f86"/>
<circle cx="211.25" cy="389.30" r="2.0" fill="#0f4f86"/>
<circle cx="232.00" cy="390.30" r="2.0" fill="#0f4f86"/>
<circle cx="252.40" cy="391.80" r="2.0" fill="#0f4f86"/>
<circle cx="274.30" cy="392.40" r="2.0" fill="#0f4f86"/>
<circle cx="294.60" cy="392.40" r="2.0" fill="#0f4f86"/>
<circle cx="314.60" cy="392.40" r="2.0" fill="#0f4f86"/>
<polyline points="81.25,385.50 104.50,384.50 127.50,383.25 148.75,391.00 169.60,391.00 190.70,390.30 211.25,385.40 232.00,386.70 252.40,389.30 274.30,392.40 294.60,392.40 314.60,392.40" fill="none" stroke="#c8102e" stroke-width="1.7" stroke-linejoin="round"/>
<circle cx="81.25" cy="385.50" r="2.0" fill="#c8102e"/>
<circle cx="104.50" cy="384.50" r="2.0" fill="#c8102e"/>
<circle cx="127.50" cy="383.25" r="2.0" fill="#c8102e"/>
<circle cx="148.75" cy="391.00" r="2.0" fill="#c8102e"/>
<circle cx="169.60" cy="391.00" r="2.0" fill="#c8102e"/>
<circle cx="190.70" cy="390.30" r="2.0" fill="#c8102e"/>
<line x1="211.25" y1="380.60" x2="211.25" y2="389.30" stroke="#c8102e" stroke-width="1.1"/>
<line x1="209.55" y1="380.60" x2="212.95" y2="380.60" stroke="#c8102e" stroke-width="1.1"/>
<line x1="209.55" y1="389.30" x2="212.95" y2="389.30" stroke="#c8102e" stroke-width="1.1"/>
<circle cx="211.25" cy="385.40" r="2.0" fill="#c8102e"/>
<line x1="232.00" y1="384.60" x2="232.00" y2="389.80" stroke="#c8102e" stroke-width="1.1"/>
<line x1="230.30" y1="384.60" x2="233.70" y2="384.60" stroke="#c8102e" stroke-width="1.1"/>
<line x1="230.30" y1="389.80" x2="233.70" y2="389.80" stroke="#c8102e" stroke-width="1.1"/>
<circle cx="232.00" cy="386.70" r="2.0" fill="#c8102e"/>
<circle cx="252.40" cy="389.30" r="2.0" fill="#c8102e"/>
<circle cx="274.30" cy="392.40" r="2.0" fill="#c8102e"/>
<circle cx="294.60" cy="392.40" r="2.0" fill="#c8102e"/>
<circle cx="314.60" cy="392.40" r="2.0" fill="#c8102e"/>
<rect x="273.40" y="301.15" width="8.20" height="8.20" fill="#5b2a80" stroke="#444" stroke-width="0.8"/>
<text x="284.80" y="308.36" font-size="6.6" text-anchor="start" fill="#1a1a1a" stroke="#1a1a1a" stroke-width="0.04" textLength="48.5" lengthAdjust="spacingAndGlyphs">IACS (–) MSC (–)</text>
<rect x="273.40" y="311.55" width="8.20" height="8.20" fill="#3db54a" stroke="#444" stroke-width="0.8"/>
<text x="284.80" y="318.66" font-size="6.6" text-anchor="start" fill="#1a1a1a" stroke="#1a1a1a" stroke-width="0.04" textLength="48.5" lengthAdjust="spacingAndGlyphs">IACS (–) MSC (+)</text>
<rect x="273.40" y="322.00" width="8.20" height="8.20" fill="#0f4f86" stroke="#444" stroke-width="0.8"/>
<text x="284.80" y="329.66" font-size="6.6" text-anchor="start" fill="#1a1a1a" stroke="#1a1a1a" stroke-width="0.04" textLength="48.5" lengthAdjust="spacingAndGlyphs">IACS (+) MSC (+)</text>
<rect x="273.40" y="332.15" width="8.20" height="8.20" fill="#c8102e" stroke="#444" stroke-width="0.8"/>
<text x="284.80" y="337.76" font-size="6.6" text-anchor="start" fill="#1a1a1a" stroke="#1a1a1a" stroke-width="0.04" textLength="48.5" lengthAdjust="spacingAndGlyphs">IACS (+) MSC (–)</text>
<line x1="381.50" y1="298.35" x2="381.50" y2="394.80" stroke="#111" stroke-width="1.3"/>
<line x1="381.00" y1="394.30" x2="430.00" y2="394.30" stroke="#111" stroke-width="1.3"/>
<line x1="379.00" y1="394.30" x2="381.50" y2="394.30" stroke="#111" stroke-width="1.0"/>
<text x="377.00" y="396.99" font-size="7.5" text-anchor="end" fill="#1a1a1a" stroke="#1a1a1a" stroke-width="0.1" textLength="4.4" lengthAdjust="spacingAndGlyphs">0</text>
<line x1="379.00" y1="370.44" x2="381.50" y2="370.44" stroke="#111" stroke-width="1.0"/>
<text x="377.00" y="373.12" font-size="7.5" text-anchor="end" fill="#1a1a1a" stroke="#1a1a1a" stroke-width="0.1" textLength="13.2" lengthAdjust="spacingAndGlyphs">200</text>
<line x1="379.00" y1="346.58" x2="381.50" y2="346.58" stroke="#111" stroke-width="1.0"/>
<text x="377.00" y="349.26" font-size="7.5" text-anchor="end" fill="#1a1a1a" stroke="#1a1a1a" stroke-width="0.1" textLength="13.2" lengthAdjust="spacingAndGlyphs">400</text>
<line x1="379.00" y1="322.71" x2="381.50" y2="322.71" stroke="#111" stroke-width="1.0"/>
<text x="377.00" y="325.40" font-size="7.5" text-anchor="end" fill="#1a1a1a" stroke="#1a1a1a" stroke-width="0.1" textLength="13.2" lengthAdjust="spacingAndGlyphs">600</text>
<line x1="379.00" y1="298.85" x2="381.50" y2="298.85" stroke="#111" stroke-width="1.0"/>
<text x="377.00" y="301.54" font-size="7.5" text-anchor="end" fill="#1a1a1a" stroke="#1a1a1a" stroke-width="0.1" textLength="13.2" lengthAdjust="spacingAndGlyphs">800</text>
<line x1="388.20" y1="304.22" x2="388.20" y2="318.54" stroke="#111" stroke-width="1.0"/>
<line x1="386.50" y1="304.22" x2="389.90" y2="304.22" stroke="#111" stroke-width="1.0"/>
<line x1="386.50" y1="318.54" x2="389.90" y2="318.54" stroke="#111" stroke-width="1.0"/>
<rect x="384.30" y="311.38" width="7.80" height="82.92" fill="#0f4f86" stroke="#1a1a1a" stroke-width="0.8"/>
<line x1="388.20" y1="311.38" x2="388.20" y2="318.54" stroke="#111" stroke-width="1.0"/>
<line x1="386.50" y1="318.54" x2="389.90" y2="318.54" stroke="#111" stroke-width="1.0"/>
<line x1="399.90" y1="368.05" x2="399.90" y2="371.63" stroke="#111" stroke-width="1.0"/>
<line x1="398.20" y1="368.05" x2="401.60" y2="368.05" stroke="#111" stroke-width="1.0"/>
<line x1="398.20" y1="371.63" x2="401.60" y2="371.63" stroke="#111" stroke-width="1.0"/>
<rect x="396.00" y="369.84" width="7.80" height="24.46" fill="#3db54a" stroke="#1a1a1a" stroke-width="0.8"/>
<line x1="399.90" y1="369.84" x2="399.90" y2="371.63" stroke="#111" stroke-width="1.0"/>
<line x1="398.20" y1="371.63" x2="401.60" y2="371.63" stroke="#111" stroke-width="1.0"/>
<line x1="412.10" y1="321.52" x2="412.10" y2="345.38" stroke="#111" stroke-width="1.0"/>
<line x1="410.40" y1="321.52" x2="413.80" y2="321.52" stroke="#111" stroke-width="1.0"/>
<line x1="410.40" y1="345.38" x2="413.80" y2="345.38" stroke="#111" stroke-width="1.0"/>
<rect x="408.20" y="333.45" width="7.80" height="60.85" fill="#5b2a80" stroke="#1a1a1a" stroke-width="0.8"/>
<line x1="412.10" y1="333.45" x2="412.10" y2="345.38" stroke="#111" stroke-width="1.0"/>
<line x1="410.40" y1="345.38" x2="413.80" y2="345.38" stroke="#111" stroke-width="1.0"/>
<line x1="423.30" y1="371.63" x2="423.30" y2="376.40" stroke="#111" stroke-width="1.0"/>
<line x1="421.60" y1="371.63" x2="425.00" y2="371.63" stroke="#111" stroke-width="1.0"/>
<line x1="421.60" y1="376.40" x2="425.00" y2="376.40" stroke="#111" stroke-width="1.0"/>
<rect x="419.40" y="374.02" width="7.80" height="20.28" fill="#f8b71a" stroke="#1a1a1a" stroke-width="0.8"/>
<line x1="423.30" y1="374.02" x2="423.30" y2="376.40" stroke="#111" stroke-width="1.0"/>
<line x1="421.60" y1="376.40" x2="425.00" y2="376.40" stroke="#111" stroke-width="1.0"/>
<text x="363.20" y="403.26" font-size="8" text-anchor="start" fill="#1a1a1a" stroke="#1a1a1a" stroke-width="0.1" textLength="17" lengthAdjust="spacingAndGlyphs">IACS</text>
<text x="388.10" y="403.21" font-size="7" text-anchor="middle" fill="#1a1a1a" stroke="#1a1a1a" stroke-width="0.1" textLength="4.3" lengthAdjust="spacingAndGlyphs">–</text>
<text x="400.20" y="403.21" font-size="7" text-anchor="middle" fill="#1a1a1a" stroke="#1a1a1a" stroke-width="0.1">+</text>
<text x="412.00" y="403.21" font-size="7" text-anchor="middle" fill="#1a1a1a" stroke="#1a1a1a" stroke-width="0.1" textLength="4.3" lengthAdjust="spacingAndGlyphs">–</text>
<text x="424.50" y="403.21" font-size="7" text-anchor="middle" fill="#1a1a1a" stroke="#1a1a1a" stroke-width="0.1">+</text>
<line x1="381.60" y1="405.30" x2="403.30" y2="405.30" stroke="#111" stroke-width="1.0"/>
<line x1="409.00" y1="405.30" x2="431.40" y2="405.30" stroke="#111" stroke-width="1.0"/>
<text x="381.60" y="412.21" font-size="7" text-anchor="start" fill="#1a1a1a" stroke="#1a1a1a" stroke-width="0.05" textLength="22.4" lengthAdjust="spacingAndGlyphs">MSC (–)</text>
<text x="409.00" y="412.21" font-size="7" text-anchor="start" fill="#1a1a1a" stroke="#1a1a1a" stroke-width="0.05" textLength="22.4" lengthAdjust="spacingAndGlyphs">MSC (+)</text>
<text x="355.30" y="348.63" font-size="7.9" text-anchor="middle" fill="#1a1a1a" stroke="#1a1a1a" stroke-width="0.18" textLength="48.6" lengthAdjust="spacingAndGlyphs" transform="rotate(-90 355.30 345.80)">OCR (pmol / min)</text>
<line x1="482.50" y1="301.40" x2="482.50" y2="394.80" stroke="#111" stroke-width="1.3"/>
<line x1="482.00" y1="394.30" x2="503.90" y2="394.30" stroke="#111" stroke-width="1.3"/>
<line x1="480.00" y1="394.30" x2="482.50" y2="394.30" stroke="#111" stroke-width="1.0"/>
<text x="478.60" y="396.99" font-size="7.5" text-anchor="end" fill="#1a1a1a" stroke="#1a1a1a" stroke-width="0.1" textLength="4.7" lengthAdjust="spacingAndGlyphs">0</text>
<line x1="480.00" y1="363.50" x2="482.50" y2="363.50" stroke="#111" stroke-width="1.0"/>
<text x="478.60" y="366.19" font-size="7.5" text-anchor="end" fill="#1a1a1a" stroke="#1a1a1a" stroke-width="0.1" textLength="14.1" lengthAdjust="spacingAndGlyphs">200</text>
<line x1="480.00" y1="332.70" x2="482.50" y2="332.70" stroke="#111" stroke-width="1.0"/>
<text x="478.60" y="335.38" font-size="7.5" text-anchor="end" fill="#1a1a1a" stroke="#1a1a1a" stroke-width="0.1" textLength="14.1" lengthAdjust="spacingAndGlyphs">400</text>
<line x1="480.00" y1="301.90" x2="482.50" y2="301.90" stroke="#111" stroke-width="1.0"/>
<text x="478.60" y="304.58" font-size="7.5" text-anchor="end" fill="#1a1a1a" stroke="#1a1a1a" stroke-width="0.1" textLength="14.1" lengthAdjust="spacingAndGlyphs">600</text>
<line x1="489.00" y1="308.06" x2="489.00" y2="331.16" stroke="#111" stroke-width="1.0"/>
<line x1="487.30" y1="308.06" x2="490.70" y2="308.06" stroke="#111" stroke-width="1.0"/>
<line x1="487.30" y1="331.16" x2="490.70" y2="331.16" stroke="#111" stroke-width="1.0"/>
<rect x="485.00" y="319.61" width="8.00" height="74.69" fill="#c8102e" stroke="#1a1a1a" stroke-width="0.8"/>
<line x1="489.00" y1="319.61" x2="489.00" y2="331.16" stroke="#111" stroke-width="1.0"/>
<line x1="487.30" y1="331.16" x2="490.70" y2="331.16" stroke="#111" stroke-width="1.0"/>
<line x1="499.40" y1="326.54" x2="499.40" y2="355.80" stroke="#111" stroke-width="1.0"/>
<line x1="497.70" y1="326.54" x2="501.10" y2="326.54" stroke="#111" stroke-width="1.0"/>
<line x1="497.70" y1="355.80" x2="501.10" y2="355.80" stroke="#111" stroke-width="1.0"/>
<rect x="495.50" y="341.17" width="7.80" height="53.13" fill="#0f4f86" stroke="#1a1a1a" stroke-width="0.8"/>
<line x1="499.40" y1="341.17" x2="499.40" y2="355.80" stroke="#111" stroke-width="1.0"/>
<line x1="497.70" y1="355.80" x2="501.10" y2="355.80" stroke="#111" stroke-width="1.0"/>
<text x="463.10" y="402.71" font-size="7.3" text-anchor="start" fill="#1a1a1a" stroke="#1a1a1a" stroke-width="0.1" textLength="16.7" lengthAdjust="spacingAndGlyphs">MSC</text>
<text x="488.15" y="402.81" font-size="7.3" text-anchor="middle" fill="#1a1a1a" stroke="#1a1a1a" stroke-width="0.1" textLength="4.1" lengthAdjust="spacingAndGlyphs">–</text>
<text x="499.70" y="402.81" font-size="7.3" text-anchor="middle" fill="#1a1a1a" stroke="#1a1a1a" stroke-width="0.1">+</text>
<text x="448.70" y="348.75" font-size="8.8" text-anchor="middle" fill="#1a1a1a" stroke="#1a1a1a" stroke-width="0.18" textLength="66" lengthAdjust="spacingAndGlyphs" transform="rotate(-90 448.70 345.60)">Decreased OCR by IACS</text>
<text x="460.00" y="348.75" font-size="8.8" text-anchor="middle" fill="#1a1a1a" stroke="#1a1a1a" stroke-width="0.18" textLength="64.6" lengthAdjust="spacingAndGlyphs" transform="rotate(-90 460.00 345.60)">treatment (pmol / min)</text>
<line x1="86.25" y1="448.00" x2="86.25" y2="547.80" stroke="#111" stroke-width="1.4"/>
<line x1="85.55" y1="547.30" x2="363.50" y2="547.30" stroke="#111" stroke-width="1.3"/>
<line x1="83.25" y1="547.50" x2="86.25" y2="547.50" stroke="#111" stroke-width="1.0"/>
<text x="80.20" y="550.04" font-size="7.1" text-anchor="end" fill="#1a1a1a" stroke="#1a1a1a" stroke-width="0.15" textLength="4.5" lengthAdjust="spacingAndGlyphs">0</text>
<line x1="83.25" y1="534.29" x2="86.25" y2="534.29" stroke="#111" stroke-width="1.0"/>
<text x="80.20" y="536.83" font-size="7.1" text-anchor="end" fill="#1a1a1a" stroke="#1a1a1a" stroke-width="0.15" textLength="9.0" lengthAdjust="spacingAndGlyphs">20</text>
<line x1="83.25" y1="521.07" x2="86.25" y2="521.07" stroke="#111" stroke-width="1.0"/>
<text x="80.20" y="523.61" font-size="7.1" text-anchor="end" fill="#1a1a1a" stroke="#1a1a1a" stroke-width="0.15" textLength="9.0" lengthAdjust="spacingAndGlyphs">40</text>
<line x1="83.25" y1="507.86" x2="86.25" y2="507.86" stroke="#111" stroke-width="1.0"/>
<text x="80.20" y="510.40" font-size="7.1" text-anchor="end" fill="#1a1a1a" stroke="#1a1a1a" stroke-width="0.15" textLength="9.0" lengthAdjust="spacingAndGlyphs">60</text>
<line x1="83.25" y1="494.64" x2="86.25" y2="494.64" stroke="#111" stroke-width="1.0"/>
<text x="80.20" y="497.18" font-size="7.1" text-anchor="end" fill="#1a1a1a" stroke="#1a1a1a" stroke-width="0.15" textLength="9.0" lengthAdjust="spacingAndGlyphs">80</text>
<line x1="83.25" y1="481.43" x2="86.25" y2="481.43" stroke="#111" stroke-width="1.0"/>
<text x="80.20" y="483.97" font-size="7.1" text-anchor="end" fill="#1a1a1a" stroke="#1a1a1a" stroke-width="0.15" textLength="13.5" lengthAdjust="spacingAndGlyphs">100</text>
<line x1="83.25" y1="468.21" x2="86.25" y2="468.21" stroke="#111" stroke-width="1.0"/>
<text x="80.20" y="470.76" font-size="7.1" text-anchor="end" fill="#1a1a1a" stroke="#1a1a1a" stroke-width="0.15" textLength="13.5" lengthAdjust="spacingAndGlyphs">120</text>
<line x1="83.25" y1="455.00" x2="86.25" y2="455.00" stroke="#111" stroke-width="1.0"/>
<text x="80.20" y="457.54" font-size="7.1" text-anchor="end" fill="#1a1a1a" stroke="#1a1a1a" stroke-width="0.15" textLength="13.5" lengthAdjust="spacingAndGlyphs">140</text>
<line x1="85.00" y1="547.30" x2="85.00" y2="549.80" stroke="#111" stroke-width="1.0"/>
<text x="85.00" y="558.54" font-size="7.1" text-anchor="middle" fill="#1a1a1a" stroke="#1a1a1a" stroke-width="0.15" textLength="4.5" lengthAdjust="spacingAndGlyphs">0</text>
<line x1="114.00" y1="547.30" x2="114.00" y2="549.80" stroke="#111" stroke-width="1.0"/>
<text x="114.00" y="558.54" font-size="7.1" text-anchor="middle" fill="#1a1a1a" stroke="#1a1a1a" stroke-width="0.15" textLength="9.0" lengthAdjust="spacingAndGlyphs">10</text>
<line x1="141.90" y1="547.30" x2="141.90" y2="549.80" stroke="#111" stroke-width="1.0"/>
<text x="141.90" y="558.54" font-size="7.1" text-anchor="middle" fill="#1a1a1a" stroke="#1a1a1a" stroke-width="0.15" textLength="9.0" lengthAdjust="spacingAndGlyphs">20</text>
<line x1="170.00" y1="547.30" x2="170.00" y2="549.80" stroke="#111" stroke-width="1.0"/>
<text x="170.00" y="558.54" font-size="7.1" text-anchor="middle" fill="#1a1a1a" stroke="#1a1a1a" stroke-width="0.15" textLength="9.0" lengthAdjust="spacingAndGlyphs">30</text>
<line x1="198.50" y1="547.30" x2="198.50" y2="549.80" stroke="#111" stroke-width="1.0"/>
<text x="198.50" y="558.54" font-size="7.1" text-anchor="middle" fill="#1a1a1a" stroke="#1a1a1a" stroke-width="0.15" textLength="9.0" lengthAdjust="spacingAndGlyphs">40</text>
<line x1="228.30" y1="547.30" x2="228.30" y2="549.80" stroke="#111" stroke-width="1.0"/>
<text x="228.30" y="558.54" font-size="7.1" text-anchor="middle" fill="#1a1a1a" stroke="#1a1a1a" stroke-width="0.15" textLength="9.0" lengthAdjust="spacingAndGlyphs">50</text>
<line x1="257.00" y1="547.30" x2="257.00" y2="549.80" stroke="#111" stroke-width="1.0"/>
<text x="257.00" y="558.54" font-size="7.1" text-anchor="middle" fill="#1a1a1a" stroke="#1a1a1a" stroke-width="0.15" textLength="9.0" lengthAdjust="spacingAndGlyphs">60</text>
<line x1="285.30" y1="547.30" x2="285.30" y2="549.80" stroke="#111" stroke-width="1.0"/>
<text x="285.30" y="558.54" font-size="7.1" text-anchor="middle" fill="#1a1a1a" stroke="#1a1a1a" stroke-width="0.15" textLength="9.0" lengthAdjust="spacingAndGlyphs">70</text>
<line x1="312.50" y1="547.30" x2="312.50" y2="549.80" stroke="#111" stroke-width="1.0"/>
<text x="312.50" y="558.54" font-size="7.1" text-anchor="middle" fill="#1a1a1a" stroke="#1a1a1a" stroke-width="0.15" textLength="9.0" lengthAdjust="spacingAndGlyphs">80</text>
<line x1="339.00" y1="547.30" x2="339.00" y2="549.80" stroke="#111" stroke-width="1.0"/>
<text x="339.00" y="558.54" font-size="7.1" text-anchor="middle" fill="#1a1a1a" stroke="#1a1a1a" stroke-width="0.15" textLength="9.0" lengthAdjust="spacingAndGlyphs">90</text>
<text x="224.15" y="570.08" font-size="8.6" text-anchor="middle" fill="#1a1a1a" stroke="#1a1a1a" stroke-width="0.12" textLength="42.9" lengthAdjust="spacingAndGlyphs">Time (minutes)</text>
<text x="59.70" y="497.54" font-size="8.2" text-anchor="middle" fill="#1a1a1a" stroke="#1a1a1a" stroke-width="0.18" textLength="51" lengthAdjust="spacingAndGlyphs" transform="rotate(-90 59.70 494.60)">OCR (pmol / min)</text>
<rect x="133.80" y="448.10" width="8.10" height="99.20" fill="#4cbdec"/>
<rect x="133.80" y="448.10" width="8.10" height="6.70" fill="#5b2a80"/>
<line x1="143.80" y1="463.20" x2="143.80" y2="547.30" stroke="#3db54a" stroke-width="0.9"/>
<line x1="217.50" y1="463.00" x2="217.50" y2="547.30" stroke="#3db54a" stroke-width="0.9"/>
<line x1="290.60" y1="463.60" x2="290.60" y2="547.30" stroke="#3db54a" stroke-width="0.9"/>
<text x="121.25" y="438.18" font-size="7.2" text-anchor="start" fill="#1a1a1a" stroke="#1a1a1a" stroke-width="0.15" textLength="47" lengthAdjust="spacingAndGlyphs">Baseline OCR</text>
<line x1="137.35" y1="443.90" x2="137.35" y2="460.80" stroke="#000" stroke-width="1.3"/>
<polygon points="135.65,458.30 139.05,458.30 137.35,465.80" fill="#000"/>
<text x="143.25" y="460.08" font-size="7.2" text-anchor="start" fill="#1a1a1a" stroke="#1a1a1a" stroke-width="0.15" textLength="17.7" lengthAdjust="spacingAndGlyphs">Oligo</text>
<text x="210.00" y="459.78" font-size="7.2" text-anchor="start" fill="#1a1a1a" stroke="#1a1a1a" stroke-width="0.15" textLength="21.7" lengthAdjust="spacingAndGlyphs">FCCP</text>
<text x="289.80" y="452.88" font-size="7.2" text-anchor="start" fill="#1a1a1a" stroke="#1a1a1a" stroke-width="0.08" textLength="36.3" lengthAdjust="spacingAndGlyphs">Rotenone /</text>
<text x="289.00" y="462.08" font-size="7.2" text-anchor="start" fill="#1a1a1a" stroke="#1a1a1a" stroke-width="0.08" textLength="38.5" lengthAdjust="spacingAndGlyphs">Antimycin A</text>
<text x="346.50" y="439.16" font-size="6.6" text-anchor="start" fill="#1a1a1a" stroke="#1a1a1a" stroke-width="0.15" textLength="16.3" lengthAdjust="spacingAndGlyphs">MSC</text>
<circle cx="89.20" cy="547.3" r="1.2" fill="#111"/>
<circle cx="113.90" cy="547.3" r="1.2" fill="#111"/>
<circle cx="137.50" cy="547.3" r="1.2" fill="#111"/>
<circle cx="162.50" cy="547.3" r="1.2" fill="#111"/>
<circle cx="187.00" cy="547.3" r="1.2" fill="#111"/>
<circle cx="211.25" cy="547.3" r="1.2" fill="#111"/>
<circle cx="235.00" cy="547.3" r="1.2" fill="#111"/>
<circle cx="260.00" cy="547.3" r="1.2" fill="#111"/>
<circle cx="284.25" cy="547.3" r="1.2" fill="#111"/>
<circle cx="309.00" cy="547.3" r="1.2" fill="#111"/>
<circle cx="333.40" cy="547.3" r="1.2" fill="#111"/>
<circle cx="357.80" cy="547.3" r="1.2" fill="#111"/>
<polyline points="89.20,496.25 113.90,497.50 137.50,495.00 162.50,526.25 187.00,527.50 211.25,528.00 235.00,471.75 260.00,474.25 284.25,472.20 309.00,532.50 333.40,532.00 357.80,532.00" fill="none" stroke="#0f4f86" stroke-width="1.7" stroke-linejoin="round"/>
<line x1="89.20" y1="494.50" x2="89.20" y2="498.00" stroke="#0f4f86" stroke-width="1.1"/>
<line x1="87.50" y1="494.50" x2="90.90" y2="494.50" stroke="#0f4f86" stroke-width="1.1"/>
<line x1="87.50" y1="498.00" x2="90.90" y2="498.00" stroke="#0f4f86" stroke-width="1.1"/>
<rect x="87.60" y="494.65" width="3.20" height="3.20" fill="#0f4f86"/>
<rect x="112.30" y="495.90" width="3.20" height="3.20" fill="#0f4f86"/>
<line x1="137.50" y1="491.25" x2="137.50" y2="499.25" stroke="#0f4f86" stroke-width="1.1"/>
<line x1="135.80" y1="491.25" x2="139.20" y2="491.25" stroke="#0f4f86" stroke-width="1.1"/>
<line x1="135.80" y1="499.25" x2="139.20" y2="499.25" stroke="#0f4f86" stroke-width="1.1"/>
<rect x="135.90" y="493.40" width="3.20" height="3.20" fill="#0f4f86"/>
<line x1="162.50" y1="523.75" x2="162.50" y2="528.75" stroke="#0f4f86" stroke-width="1.1"/>
<line x1="160.80" y1="523.75" x2="164.20" y2="523.75" stroke="#0f4f86" stroke-width="1.1"/>
<line x1="160.80" y1="528.75" x2="164.20" y2="528.75" stroke="#0f4f86" stroke-width="1.1"/>
<rect x="160.90" y="524.65" width="3.20" height="3.20" fill="#0f4f86"/>
<rect x="185.40" y="525.90" width="3.20" height="3.20" fill="#0f4f86"/>
<rect x="209.65" y="526.40" width="3.20" height="3.20" fill="#0f4f86"/>
<line x1="235.00" y1="465.00" x2="235.00" y2="478.75" stroke="#0f4f86" stroke-width="1.1"/>
<line x1="233.30" y1="465.00" x2="236.70" y2="465.00" stroke="#0f4f86" stroke-width="1.1"/>
<line x1="233.30" y1="478.75" x2="236.70" y2="478.75" stroke="#0f4f86" stroke-width="1.1"/>
<rect x="233.40" y="470.15" width="3.20" height="3.20" fill="#0f4f86"/>
<line x1="260.00" y1="465.00" x2="260.00" y2="484.50" stroke="#0f4f86" stroke-width="1.1"/>
<line x1="258.30" y1="465.00" x2="261.70" y2="465.00" stroke="#0f4f86" stroke-width="1.1"/>
<line x1="258.30" y1="484.50" x2="261.70" y2="484.50" stroke="#0f4f86" stroke-width="1.1"/>
<rect x="258.40" y="472.65" width="3.20" height="3.20" fill="#0f4f86"/>
<line x1="284.25" y1="461.70" x2="284.25" y2="481.40" stroke="#0f4f86" stroke-width="1.1"/>
<line x1="282.55" y1="461.70" x2="285.95" y2="461.70" stroke="#0f4f86" stroke-width="1.1"/>
<line x1="282.55" y1="481.40" x2="285.95" y2="481.40" stroke="#0f4f86" stroke-width="1.1"/>
<rect x="282.65" y="470.60" width="3.20" height="3.20" fill="#0f4f86"/>
<line x1="309.00" y1="528.50" x2="309.00" y2="536.50" stroke="#0f4f86" stroke-width="1.1"/>
<line x1="307.30" y1="528.50" x2="310.70" y2="528.50" stroke="#0f4f86" stroke-width="1.1"/>
<line x1="307.30" y1="536.50" x2="310.70" y2="536.50" stroke="#0f4f86" stroke-width="1.1"/>
<rect x="307.40" y="530.90" width="3.20" height="3.20" fill="#0f4f86"/>
<line x1="333.40" y1="528.50" x2="333.40" y2="536.50" stroke="#0f4f86" stroke-width="1.1"/>
<line x1="331.70" y1="528.50" x2="335.10" y2="528.50" stroke="#0f4f86" stroke-width="1.1"/>
<line x1="331.70" y1="536.50" x2="335.10" y2="536.50" stroke="#0f4f86" stroke-width="1.1"/>
<rect x="331.80" y="530.40" width="3.20" height="3.20" fill="#0f4f86"/>
<line x1="357.80" y1="528.50" x2="357.80" y2="536.50" stroke="#0f4f86" stroke-width="1.1"/>
<line x1="356.10" y1="528.50" x2="359.50" y2="528.50" stroke="#0f4f86" stroke-width="1.1"/>
<line x1="356.10" y1="536.50" x2="359.50" y2="536.50" stroke="#0f4f86" stroke-width="1.1"/>
<rect x="356.20" y="530.40" width="3.20" height="3.20" fill="#0f4f86"/>
<polyline points="89.20,525.00 113.90,523.25 137.50,521.25 162.50,530.00 187.00,530.00 211.25,530.00 235.00,503.75 260.00,502.50 284.25,501.50 309.00,534.60 333.40,534.60 357.80,534.60" fill="none" stroke="#c8102e" stroke-width="1.7" stroke-linejoin="round"/>
<line x1="89.20" y1="519.50" x2="89.20" y2="529.50" stroke="#c8102e" stroke-width="1.1"/>
<line x1="87.50" y1="519.50" x2="90.90" y2="519.50" stroke="#c8102e" stroke-width="1.1"/>
<line x1="87.50" y1="529.50" x2="90.90" y2="529.50" stroke="#c8102e" stroke-width="1.1"/>
<rect x="87.60" y="523.40" width="3.20" height="3.20" fill="#c8102e"/>
<line x1="113.90" y1="516.25" x2="113.90" y2="528.75" stroke="#c8102e" stroke-width="1.1"/>
<line x1="112.20" y1="516.25" x2="115.60" y2="516.25" stroke="#c8102e" stroke-width="1.1"/>
<line x1="112.20" y1="528.75" x2="115.60" y2="528.75" stroke="#c8102e" stroke-width="1.1"/>
<rect x="112.30" y="521.65" width="3.20" height="3.20" fill="#c8102e"/>
<line x1="137.50" y1="513.75" x2="137.50" y2="529.50" stroke="#c8102e" stroke-width="1.1"/>
<line x1="135.80" y1="513.75" x2="139.20" y2="513.75" stroke="#c8102e" stroke-width="1.1"/>
<line x1="135.80" y1="529.50" x2="139.20" y2="529.50" stroke="#c8102e" stroke-width="1.1"/>
<rect x="135.90" y="519.65" width="3.20" height="3.20" fill="#c8102e"/>
<line x1="162.50" y1="525.00" x2="162.50" y2="535.00" stroke="#c8102e" stroke-width="1.1"/>
<line x1="160.80" y1="525.00" x2="164.20" y2="525.00" stroke="#c8102e" stroke-width="1.1"/>
<line x1="160.80" y1="535.00" x2="164.20" y2="535.00" stroke="#c8102e" stroke-width="1.1"/>
<rect x="160.90" y="528.40" width="3.20" height="3.20" fill="#c8102e"/>
<line x1="187.00" y1="527.00" x2="187.00" y2="533.75" stroke="#c8102e" stroke-width="1.1"/>
<line x1="185.30" y1="527.00" x2="188.70" y2="527.00" stroke="#c8102e" stroke-width="1.1"/>
<line x1="185.30" y1="533.75" x2="188.70" y2="533.75" stroke="#c8102e" stroke-width="1.1"/>
<rect x="185.40" y="528.40" width="3.20" height="3.20" fill="#c8102e"/>
<line x1="211.25" y1="526.25" x2="211.25" y2="533.75" stroke="#c8102e" stroke-width="1.1"/>
<line x1="209.55" y1="526.25" x2="212.95" y2="526.25" stroke="#c8102e" stroke-width="1.1"/>
<line x1="209.55" y1="533.75" x2="212.95" y2="533.75" stroke="#c8102e" stroke-width="1.1"/>
<rect x="209.65" y="528.40" width="3.20" height="3.20" fill="#c8102e"/>
<line x1="235.00" y1="492.50" x2="235.00" y2="513.75" stroke="#c8102e" stroke-width="1.1"/>
<line x1="233.30" y1="492.50" x2="236.70" y2="492.50" stroke="#c8102e" stroke-width="1.1"/>
<line x1="233.30" y1="513.75" x2="236.70" y2="513.75" stroke="#c8102e" stroke-width="1.1"/>
<rect x="233.40" y="502.15" width="3.20" height="3.20" fill="#c8102e"/>
<line x1="260.00" y1="492.00" x2="260.00" y2="513.00" stroke="#c8102e" stroke-width="1.1"/>
<line x1="258.30" y1="492.00" x2="261.70" y2="492.00" stroke="#c8102e" stroke-width="1.1"/>
<line x1="258.30" y1="513.00" x2="261.70" y2="513.00" stroke="#c8102e" stroke-width="1.1"/>
<rect x="258.40" y="500.90" width="3.20" height="3.20" fill="#c8102e"/>
<line x1="284.25" y1="491.80" x2="284.25" y2="511.00" stroke="#c8102e" stroke-width="1.1"/>
<line x1="282.55" y1="491.80" x2="285.95" y2="491.80" stroke="#c8102e" stroke-width="1.1"/>
<line x1="282.55" y1="511.00" x2="285.95" y2="511.00" stroke="#c8102e" stroke-width="1.1"/>
<rect x="282.65" y="499.90" width="3.20" height="3.20" fill="#c8102e"/>
<line x1="309.00" y1="528.50" x2="309.00" y2="539.40" stroke="#c8102e" stroke-width="1.1"/>
<line x1="307.30" y1="528.50" x2="310.70" y2="528.50" stroke="#c8102e" stroke-width="1.1"/>
<line x1="307.30" y1="539.40" x2="310.70" y2="539.40" stroke="#c8102e" stroke-width="1.1"/>
<rect x="307.40" y="533.00" width="3.20" height="3.20" fill="#c8102e"/>
<line x1="333.40" y1="528.50" x2="333.40" y2="539.40" stroke="#c8102e" stroke-width="1.1"/>
<line x1="331.70" y1="528.50" x2="335.10" y2="528.50" stroke="#c8102e" stroke-width="1.1"/>
<line x1="331.70" y1="539.40" x2="335.10" y2="539.40" stroke="#c8102e" stroke-width="1.1"/>
<rect x="331.80" y="533.00" width="3.20" height="3.20" fill="#c8102e"/>
<line x1="357.80" y1="528.50" x2="357.80" y2="540.80" stroke="#c8102e" stroke-width="1.1"/>
<line x1="356.10" y1="528.50" x2="359.50" y2="528.50" stroke="#c8102e" stroke-width="1.1"/>
<line x1="356.10" y1="540.80" x2="359.50" y2="540.80" stroke="#c8102e" stroke-width="1.1"/>
<rect x="356.20" y="533.00" width="3.20" height="3.20" fill="#c8102e"/>
<rect x="311.20" y="468.50" width="9.00" height="9.00" fill="#0f4f86" stroke="#444" stroke-width="0.8"/>
<text x="321.80" y="475.54" font-size="7.1" text-anchor="start" fill="#1a1a1a" stroke="#1a1a1a" stroke-width="0.04" textLength="26.9" lengthAdjust="spacingAndGlyphs">IACS (–)</text>
<rect x="311.20" y="480.00" width="9.00" height="9.00" fill="#c8102e" stroke="#444" stroke-width="0.8"/>
<text x="321.80" y="485.74" font-size="7.1" text-anchor="start" fill="#1a1a1a" stroke="#1a1a1a" stroke-width="0.04" textLength="26.9" lengthAdjust="spacingAndGlyphs">IACS (+)</text>
<line x1="411.00" y1="445.80" x2="411.00" y2="546.50" stroke="#111" stroke-width="1.3"/>
<line x1="410.50" y1="546.00" x2="436.40" y2="546.00" stroke="#111" stroke-width="1.3"/>
<line x1="408.50" y1="546.00" x2="411.00" y2="546.00" stroke="#111" stroke-width="1.0"/>
<text x="407.40" y="548.68" font-size="7.5" text-anchor="end" fill="#1a1a1a" stroke="#1a1a1a" stroke-width="0.1" textLength="4.9" lengthAdjust="spacingAndGlyphs">0</text>
<line x1="408.50" y1="526.06" x2="411.00" y2="526.06" stroke="#111" stroke-width="1.0"/>
<text x="407.40" y="528.74" font-size="7.5" text-anchor="end" fill="#1a1a1a" stroke="#1a1a1a" stroke-width="0.1" textLength="9.8" lengthAdjust="spacingAndGlyphs">20</text>
<line x1="408.50" y1="506.12" x2="411.00" y2="506.12" stroke="#111" stroke-width="1.0"/>
<text x="407.40" y="508.81" font-size="7.5" text-anchor="end" fill="#1a1a1a" stroke="#1a1a1a" stroke-width="0.1" textLength="9.8" lengthAdjust="spacingAndGlyphs">40</text>
<line x1="408.50" y1="486.18" x2="411.00" y2="486.18" stroke="#111" stroke-width="1.0"/>
<text x="407.40" y="488.87" font-size="7.5" text-anchor="end" fill="#1a1a1a" stroke="#1a1a1a" stroke-width="0.1" textLength="9.8" lengthAdjust="spacingAndGlyphs">60</text>
<line x1="408.50" y1="466.24" x2="411.00" y2="466.24" stroke="#111" stroke-width="1.0"/>
<text x="407.40" y="468.93" font-size="7.5" text-anchor="end" fill="#1a1a1a" stroke="#1a1a1a" stroke-width="0.1" textLength="9.8" lengthAdjust="spacingAndGlyphs">80</text>
<line x1="408.50" y1="446.30" x2="411.00" y2="446.30" stroke="#111" stroke-width="1.0"/>
<text x="407.40" y="448.99" font-size="7.5" text-anchor="end" fill="#1a1a1a" stroke="#1a1a1a" stroke-width="0.1" textLength="14.7" lengthAdjust="spacingAndGlyphs">100</text>
<line x1="417.45" y1="461.25" x2="417.45" y2="471.23" stroke="#111" stroke-width="1.0"/>
<line x1="415.75" y1="461.25" x2="419.15" y2="461.25" stroke="#111" stroke-width="1.0"/>
<line x1="415.75" y1="471.23" x2="419.15" y2="471.23" stroke="#111" stroke-width="1.0"/>
<rect x="413.40" y="466.24" width="8.10" height="79.76" fill="#c8102e" stroke="#1a1a1a" stroke-width="0.8"/>
<line x1="417.45" y1="466.24" x2="417.45" y2="471.23" stroke="#111" stroke-width="1.0"/>
<line x1="415.75" y1="471.23" x2="419.15" y2="471.23" stroke="#111" stroke-width="1.0"/>
<line x1="429.95" y1="496.15" x2="429.95" y2="518.08" stroke="#111" stroke-width="1.0"/>
<line x1="428.25" y1="496.15" x2="431.65" y2="496.15" stroke="#111" stroke-width="1.0"/>
<line x1="428.25" y1="518.08" x2="431.65" y2="518.08" stroke="#111" stroke-width="1.0"/>
<rect x="425.90" y="507.12" width="8.10" height="38.88" fill="#0f4f86" stroke="#1a1a1a" stroke-width="0.8"/>
<line x1="429.95" y1="507.12" x2="429.95" y2="518.08" stroke="#111" stroke-width="1.0"/>
<line x1="428.25" y1="518.08" x2="431.65" y2="518.08" stroke="#111" stroke-width="1.0"/>
<line x1="421.00" y1="447.20" x2="428.80" y2="447.20" stroke="#111" stroke-width="1.2"/>
<polygon points="424.40,440.80 425.08,442.17 426.59,442.39 425.49,443.46 425.75,444.96 424.40,444.25 423.05,444.96 423.31,443.46 422.21,442.39 423.72,442.17" fill="#111"/>
<text x="391.30" y="556.58" font-size="7.5" text-anchor="start" fill="#1a1a1a" stroke="#1a1a1a" stroke-width="0.1" textLength="17.9" lengthAdjust="spacingAndGlyphs">IACS</text>
<text x="417.60" y="556.51" font-size="7.3" text-anchor="middle" fill="#1a1a1a" stroke="#1a1a1a" stroke-width="0.1" textLength="4" lengthAdjust="spacingAndGlyphs">–</text>
<text x="430.30" y="556.51" font-size="7.3" text-anchor="middle" fill="#1a1a1a" stroke="#1a1a1a" stroke-width="0.1">+</text>
<text x="389.70" y="498.33" font-size="7.9" text-anchor="middle" fill="#1a1a1a" stroke="#1a1a1a" stroke-width="0.18" textLength="49" lengthAdjust="spacingAndGlyphs" transform="rotate(-90 389.70 495.50)">OCR (pmol / min)</text>
</svg></body></html>
